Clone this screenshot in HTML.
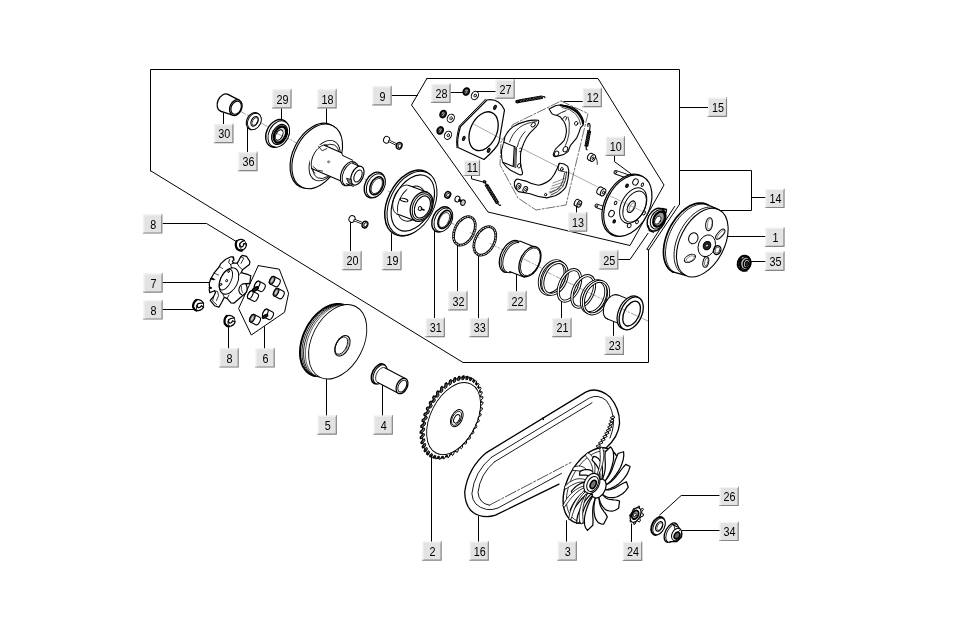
<!DOCTYPE html>
<html><head><meta charset="utf-8"><title>Parts diagram</title>
<style>
html,body{margin:0;padding:0;background:#fff;}
body{width:974px;height:620px;overflow:hidden;}
svg{display:block;will-change:transform;}
text{font-family:"Liberation Sans",sans-serif;font-size:12px;fill:#000;}
</style></head><body>
<svg width="974" height="620" viewBox="0 0 974 620" stroke-linecap="round" stroke-linejoin="round">
<rect width="974" height="620" fill="#fff"/>
<path d="M150.5 171.0 L150.5 69.5 L679.5 69.5 L679.5 204.3" fill="none" stroke="#000" stroke-width="1.0" />
<path d="M648.5 250.6 L648.5 362.5 L463.0 362.5 L151.0 171.0" fill="none" stroke="#000" stroke-width="1.0" />
<path d="M679.5 204.3 L648.3 250.6" fill="none" stroke="#000" stroke-width="1.0" />
<path d="M674.7 206.4 L646.8 249.3 L648.3 249.5" fill="none" stroke="#000" stroke-width="1.0" />
<path d="M427.0 78.5 L598.0 78.5 L664.0 185.0 L630.0 245.5 L488.0 212.0 L411.5 105.0 L427.0 78.3" fill="none" stroke="#000" stroke-width="1.0" />
<path d="M679.5 107.5 L708.0 107.5" fill="none" stroke="#000" stroke-width="1.0" />
<path d="M679.5 170.5 L751.5 170.5 L751.5 210.5 L719.5 210.5" fill="none" stroke="#000" stroke-width="1.0" />
<path d="M751.5 197.5 L765.5 197.5" fill="none" stroke="#000" stroke-width="1.0" />
<path d="M727.6 236.5 L765.5 236.5" fill="none" stroke="#000" stroke-width="1.0" />
<path d="M751.6 261.5 L765.5 261.5" fill="none" stroke="#000" stroke-width="1.0" />
<path d="M391.8 95.5 L417.4 95.5" fill="none" stroke="#000" stroke-width="1.0" />
<path d="M163.0 223.5 L206.5 223.5 L235.4 241.0" fill="none" stroke="#000" stroke-width="1.0" />
<path d="M162.5 282.5 L209.7 282.5" fill="none" stroke="#000" stroke-width="1.0" />
<path d="M162.5 309.5 L196.0 309.5" fill="none" stroke="#000" stroke-width="1.0" />
<path d="M228.5 325.0 L228.5 348.5" fill="none" stroke="#000" stroke-width="1.0" />
<path d="M264.5 326.7 L264.5 348.5" fill="none" stroke="#000" stroke-width="1.0" />
<path d="M350.5 222.0 L350.5 251.0" fill="none" stroke="#000" stroke-width="1.0" />
<path d="M391.5 233.6 L391.5 251.0" fill="none" stroke="#000" stroke-width="1.0" />
<path d="M434.5 226.0 L434.5 318.0" fill="none" stroke="#000" stroke-width="1.0" />
<path d="M457.5 243.0 L457.5 291.4" fill="none" stroke="#000" stroke-width="1.0" />
<path d="M478.5 255.0 L478.5 318.0" fill="none" stroke="#000" stroke-width="1.0" />
<path d="M516.5 272.0 L516.5 291.4" fill="none" stroke="#000" stroke-width="1.0" />
<path d="M561.5 301.3 L561.5 318.0" fill="none" stroke="#000" stroke-width="1.0" />
<path d="M613.5 319.0 L613.5 336.0" fill="none" stroke="#000" stroke-width="1.0" />
<path d="M617.9 259.5 L630.0 259.5 L648.0 233.3" fill="none" stroke="#000" stroke-width="1.0" />
<path d="M326.5 377.8 L326.5 415.6" fill="none" stroke="#000" stroke-width="1.0" />
<path d="M382.5 385.2 L382.5 415.6" fill="none" stroke="#000" stroke-width="1.0" />
<path d="M431.5 454.3 L431.5 541.7" fill="none" stroke="#000" stroke-width="1.0" />
<path d="M478.5 516.5 L478.5 541.7" fill="none" stroke="#000" stroke-width="1.0" />
<path d="M566.5 520.7 L566.5 541.7" fill="none" stroke="#000" stroke-width="1.0" />
<path d="M631.5 523.9 L631.5 541.7" fill="none" stroke="#000" stroke-width="1.0" />
<path d="M719.7 495.5 L681.2 495.5 L659.6 515.1" fill="none" stroke="#000" stroke-width="1.0" />
<path d="M681.6 530.5 L719.7 530.5" fill="none" stroke="#000" stroke-width="1.0" />
<path d="M614.5 155.3 L614.5 161.6 L631.0 173.8" fill="none" stroke="#000" stroke-width="1.0" />
<path d="M582.8 101.5 L564.0 101.5" fill="none" stroke="#000" stroke-width="1.0" />
<path d="M576.5 206.7 L576.5 213.4" fill="none" stroke="#000" stroke-width="1.0" />
<path d="M471.5 175.6 L471.5 178.8 L483.0 182.0" fill="none" stroke="#000" stroke-width="1.0" />
<path d="M223.5 113.0 L223.5 124.2" fill="none" stroke="#000" stroke-width="1.0" />
<path d="M247.5 128.0 L247.5 152.2" fill="none" stroke="#000" stroke-width="1.0" />
<path d="M281.5 108.2 L281.5 120.0" fill="none" stroke="#000" stroke-width="1.0" />
<path d="M326.5 108.2 L326.5 123.0" fill="none" stroke="#000" stroke-width="1.0" />
<path d="M450.7 92.5 L463.0 92.5" fill="none" stroke="#000" stroke-width="1.0" />
<path d="M477.0 91.5 L495.7 91.5" fill="none" stroke="#000" stroke-width="1.0" />
<g><rect x="214.4" y="124.2" width="19" height="19" fill="#e3e3e3"/><path d="M232.9 124.2V142.7H214.4" fill="none" stroke="#858585" stroke-width="1.2"/><path d="M214.9 142.2V124.7H232.4" fill="none" stroke="#f4f4f4" stroke-width="1"/><text transform="translate(224.3 138.4) scale(0.9 1.0)" text-anchor="middle">30</text></g>
<g><rect x="238.5" y="152.2" width="19" height="19" fill="#e3e3e3"/><path d="M257.0 152.2V170.7H238.5" fill="none" stroke="#858585" stroke-width="1.2"/><path d="M239.0 170.2V152.7H256.5" fill="none" stroke="#f4f4f4" stroke-width="1"/><text transform="translate(248.4 166.4) scale(0.9 1.0)" text-anchor="middle">36</text></g>
<g><rect x="272.5" y="89.4" width="19" height="19" fill="#e3e3e3"/><path d="M291.0 89.4V107.9H272.5" fill="none" stroke="#858585" stroke-width="1.2"/><path d="M273.0 107.4V89.9H290.5" fill="none" stroke="#f4f4f4" stroke-width="1"/><text transform="translate(282.4 103.6) scale(0.9 1.0)" text-anchor="middle">29</text></g>
<g><rect x="317.6" y="89.4" width="19" height="19" fill="#e3e3e3"/><path d="M336.1 89.4V107.9H317.6" fill="none" stroke="#858585" stroke-width="1.2"/><path d="M318.1 107.4V89.9H335.6" fill="none" stroke="#f4f4f4" stroke-width="1"/><text transform="translate(327.5 103.6) scale(0.9 1.0)" text-anchor="middle">18</text></g>
<g><rect x="372.6" y="86.4" width="19" height="19" fill="#e3e3e3"/><path d="M391.1 86.4V104.9H372.6" fill="none" stroke="#858585" stroke-width="1.2"/><path d="M373.1 104.4V86.9H390.6" fill="none" stroke="#f4f4f4" stroke-width="1"/><text transform="translate(382.5 100.6) scale(0.9 1.0)" text-anchor="middle">9</text></g>
<g><rect x="431.5" y="83.9" width="19" height="19" fill="#e3e3e3"/><path d="M450.0 83.9V102.4H431.5" fill="none" stroke="#858585" stroke-width="1.2"/><path d="M432.0 101.9V84.4H449.5" fill="none" stroke="#f4f4f4" stroke-width="1"/><text transform="translate(441.4 98.1) scale(0.9 1.0)" text-anchor="middle">28</text></g>
<g><rect x="495.7" y="79.7" width="19" height="19" fill="#e3e3e3"/><path d="M514.2 79.7V98.2H495.7" fill="none" stroke="#858585" stroke-width="1.2"/><path d="M496.2 97.7V80.2H513.7" fill="none" stroke="#f4f4f4" stroke-width="1"/><text transform="translate(505.6 93.9) scale(0.9 1.0)" text-anchor="middle">27</text></g>
<g><rect x="582.8" y="88.2" width="19" height="19" fill="#e3e3e3"/><path d="M601.3 88.2V106.7H582.8" fill="none" stroke="#858585" stroke-width="1.2"/><path d="M583.3 106.2V88.7H600.8" fill="none" stroke="#f4f4f4" stroke-width="1"/><text transform="translate(592.7 102.4) scale(0.9 1.0)" text-anchor="middle">12</text></g>
<g><rect x="708.0" y="97.8" width="19" height="19" fill="#e3e3e3"/><path d="M726.5 97.8V116.3H708.0" fill="none" stroke="#858585" stroke-width="1.2"/><path d="M708.5 115.8V98.3H726.0" fill="none" stroke="#f4f4f4" stroke-width="1"/><text transform="translate(717.9 112.0) scale(0.9 1.0)" text-anchor="middle">15</text></g>
<g><rect x="605.9" y="136.8" width="19" height="19" fill="#e3e3e3"/><path d="M624.4 136.8V155.3H605.9" fill="none" stroke="#858585" stroke-width="1.2"/><path d="M606.4 154.8V137.3H623.9" fill="none" stroke="#f4f4f4" stroke-width="1"/><text transform="translate(615.8 151.0) scale(0.9 1.0)" text-anchor="middle">10</text></g>
<g><rect x="765.5" y="189.0" width="19" height="19" fill="#e3e3e3"/><path d="M784.0 189.0V207.5H765.5" fill="none" stroke="#858585" stroke-width="1.2"/><path d="M766.0 207.0V189.5H783.5" fill="none" stroke="#f4f4f4" stroke-width="1"/><text transform="translate(775.4 203.2) scale(0.9 1.0)" text-anchor="middle">14</text></g>
<g><rect x="568.2" y="212.6" width="19" height="19" fill="#e3e3e3"/><path d="M586.7 212.6V231.1H568.2" fill="none" stroke="#858585" stroke-width="1.2"/><path d="M568.7 230.6V213.1H586.2" fill="none" stroke="#f4f4f4" stroke-width="1"/><text transform="translate(578.1 226.8) scale(0.9 1.0)" text-anchor="middle">13</text></g>
<g><rect x="765.5" y="227.8" width="19" height="19" fill="#e3e3e3"/><path d="M784.0 227.8V246.3H765.5" fill="none" stroke="#858585" stroke-width="1.2"/><path d="M766.0 245.8V228.3H783.5" fill="none" stroke="#f4f4f4" stroke-width="1"/><text transform="translate(775.4 242.0) scale(0.9 1.0)" text-anchor="middle">1</text></g>
<g><rect x="765.5" y="251.8" width="19" height="19" fill="#e3e3e3"/><path d="M784.0 251.8V270.3H765.5" fill="none" stroke="#858585" stroke-width="1.2"/><path d="M766.0 269.8V252.3H783.5" fill="none" stroke="#f4f4f4" stroke-width="1"/><text transform="translate(775.4 266.0) scale(0.9 1.0)" text-anchor="middle">35</text></g>
<g><rect x="599.3" y="250.5" width="19" height="19" fill="#e3e3e3"/><path d="M617.8 250.5V269.0H599.3" fill="none" stroke="#858585" stroke-width="1.2"/><path d="M599.8 268.5V251.0H617.3" fill="none" stroke="#f4f4f4" stroke-width="1"/><text transform="translate(609.2 264.7) scale(0.9 1.0)" text-anchor="middle">25</text></g>
<g><rect x="143.3" y="214.5" width="19" height="19" fill="#e3e3e3"/><path d="M161.8 214.5V233.0H143.3" fill="none" stroke="#858585" stroke-width="1.2"/><path d="M143.8 232.5V215.0H161.3" fill="none" stroke="#f4f4f4" stroke-width="1"/><text transform="translate(153.2 228.7) scale(0.9 1.0)" text-anchor="middle">8</text></g>
<g><rect x="143.6" y="273.6" width="19" height="19" fill="#e3e3e3"/><path d="M162.1 273.6V292.1H143.6" fill="none" stroke="#858585" stroke-width="1.2"/><path d="M144.1 291.6V274.1H161.6" fill="none" stroke="#f4f4f4" stroke-width="1"/><text transform="translate(153.5 287.8) scale(0.9 1.0)" text-anchor="middle">7</text></g>
<g><rect x="143.6" y="300.5" width="19" height="19" fill="#e3e3e3"/><path d="M162.1 300.5V319.0H143.6" fill="none" stroke="#858585" stroke-width="1.2"/><path d="M144.1 318.5V301.0H161.6" fill="none" stroke="#f4f4f4" stroke-width="1"/><text transform="translate(153.5 314.7) scale(0.9 1.0)" text-anchor="middle">8</text></g>
<g><rect x="219.7" y="348.5" width="19" height="19" fill="#e3e3e3"/><path d="M238.2 348.5V367.0H219.7" fill="none" stroke="#858585" stroke-width="1.2"/><path d="M220.2 366.5V349.0H237.7" fill="none" stroke="#f4f4f4" stroke-width="1"/><text transform="translate(229.6 362.7) scale(0.9 1.0)" text-anchor="middle">8</text></g>
<g><rect x="255.7" y="348.5" width="19" height="19" fill="#e3e3e3"/><path d="M274.2 348.5V367.0H255.7" fill="none" stroke="#858585" stroke-width="1.2"/><path d="M256.2 366.5V349.0H273.7" fill="none" stroke="#f4f4f4" stroke-width="1"/><text transform="translate(265.6 362.7) scale(0.9 1.0)" text-anchor="middle">6</text></g>
<g><rect x="342.6" y="251.2" width="19" height="19" fill="#e3e3e3"/><path d="M361.1 251.2V269.7H342.6" fill="none" stroke="#858585" stroke-width="1.2"/><path d="M343.1 269.2V251.7H360.6" fill="none" stroke="#f4f4f4" stroke-width="1"/><text transform="translate(352.5 265.4) scale(0.9 1.0)" text-anchor="middle">20</text></g>
<g><rect x="382.5" y="251.2" width="19" height="19" fill="#e3e3e3"/><path d="M401.0 251.2V269.7H382.5" fill="none" stroke="#858585" stroke-width="1.2"/><path d="M383.0 269.2V251.7H400.5" fill="none" stroke="#f4f4f4" stroke-width="1"/><text transform="translate(392.4 265.4) scale(0.9 1.0)" text-anchor="middle">19</text></g>
<g><rect x="425.8" y="318.2" width="19" height="19" fill="#e3e3e3"/><path d="M444.3 318.2V336.7H425.8" fill="none" stroke="#858585" stroke-width="1.2"/><path d="M426.3 336.2V318.7H443.8" fill="none" stroke="#f4f4f4" stroke-width="1"/><text transform="translate(435.7 332.4) scale(0.9 1.0)" text-anchor="middle">31</text></g>
<g><rect x="448.5" y="291.4" width="19" height="19" fill="#e3e3e3"/><path d="M467.0 291.4V309.9H448.5" fill="none" stroke="#858585" stroke-width="1.2"/><path d="M449.0 309.4V291.9H466.5" fill="none" stroke="#f4f4f4" stroke-width="1"/><text transform="translate(458.4 305.6) scale(0.9 1.0)" text-anchor="middle">32</text></g>
<g><rect x="469.8" y="318.2" width="19" height="19" fill="#e3e3e3"/><path d="M488.3 318.2V336.7H469.8" fill="none" stroke="#858585" stroke-width="1.2"/><path d="M470.3 336.2V318.7H487.8" fill="none" stroke="#f4f4f4" stroke-width="1"/><text transform="translate(479.7 332.4) scale(0.9 1.0)" text-anchor="middle">33</text></g>
<g><rect x="507.6" y="291.4" width="19" height="19" fill="#e3e3e3"/><path d="M526.1 291.4V309.9H507.6" fill="none" stroke="#858585" stroke-width="1.2"/><path d="M508.1 309.4V291.9H525.6" fill="none" stroke="#f4f4f4" stroke-width="1"/><text transform="translate(517.5 305.6) scale(0.9 1.0)" text-anchor="middle">22</text></g>
<g><rect x="552.5" y="318.2" width="19" height="19" fill="#e3e3e3"/><path d="M571.0 318.2V336.7H552.5" fill="none" stroke="#858585" stroke-width="1.2"/><path d="M553.0 336.2V318.7H570.5" fill="none" stroke="#f4f4f4" stroke-width="1"/><text transform="translate(562.4 332.4) scale(0.9 1.0)" text-anchor="middle">21</text></g>
<g><rect x="604.9" y="335.9" width="19" height="19" fill="#e3e3e3"/><path d="M623.4 335.9V354.4H604.9" fill="none" stroke="#858585" stroke-width="1.2"/><path d="M605.4 353.9V336.4H622.9" fill="none" stroke="#f4f4f4" stroke-width="1"/><text transform="translate(614.8 350.1) scale(0.9 1.0)" text-anchor="middle">23</text></g>
<g><rect x="317.8" y="415.6" width="19" height="19" fill="#e3e3e3"/><path d="M336.3 415.6V434.1H317.8" fill="none" stroke="#858585" stroke-width="1.2"/><path d="M318.3 433.6V416.1H335.8" fill="none" stroke="#f4f4f4" stroke-width="1"/><text transform="translate(327.7 429.8) scale(0.9 1.0)" text-anchor="middle">5</text></g>
<g><rect x="373.8" y="415.6" width="19" height="19" fill="#e3e3e3"/><path d="M392.3 415.6V434.1H373.8" fill="none" stroke="#858585" stroke-width="1.2"/><path d="M374.3 433.6V416.1H391.8" fill="none" stroke="#f4f4f4" stroke-width="1"/><text transform="translate(383.7 429.8) scale(0.9 1.0)" text-anchor="middle">4</text></g>
<g><rect x="422.6" y="541.7" width="19" height="19" fill="#e3e3e3"/><path d="M441.1 541.7V560.2H422.6" fill="none" stroke="#858585" stroke-width="1.2"/><path d="M423.1 559.7V542.2H440.6" fill="none" stroke="#f4f4f4" stroke-width="1"/><text transform="translate(432.5 555.9) scale(0.9 1.0)" text-anchor="middle">2</text></g>
<g><rect x="469.8" y="541.7" width="19" height="19" fill="#e3e3e3"/><path d="M488.3 541.7V560.2H469.8" fill="none" stroke="#858585" stroke-width="1.2"/><path d="M470.3 559.7V542.2H487.8" fill="none" stroke="#f4f4f4" stroke-width="1"/><text transform="translate(479.7 555.9) scale(0.9 1.0)" text-anchor="middle">16</text></g>
<g><rect x="557.8" y="541.7" width="19" height="19" fill="#e3e3e3"/><path d="M576.3 541.7V560.2H557.8" fill="none" stroke="#858585" stroke-width="1.2"/><path d="M558.3 559.7V542.2H575.8" fill="none" stroke="#f4f4f4" stroke-width="1"/><text transform="translate(567.7 555.9) scale(0.9 1.0)" text-anchor="middle">3</text></g>
<g><rect x="623.2" y="541.9" width="19" height="19" fill="#e3e3e3"/><path d="M641.7 541.9V560.4H623.2" fill="none" stroke="#858585" stroke-width="1.2"/><path d="M623.7 559.9V542.4H641.2" fill="none" stroke="#f4f4f4" stroke-width="1"/><text transform="translate(633.1 556.1) scale(0.9 1.0)" text-anchor="middle">24</text></g>
<g><rect x="719.7" y="487.0" width="19" height="19" fill="#e3e3e3"/><path d="M738.2 487.0V505.5H719.7" fill="none" stroke="#858585" stroke-width="1.2"/><path d="M720.2 505.0V487.5H737.7" fill="none" stroke="#f4f4f4" stroke-width="1"/><text transform="translate(729.6 501.2) scale(0.9 1.0)" text-anchor="middle">26</text></g>
<g><rect x="719.7" y="522.0" width="19" height="19" fill="#e3e3e3"/><path d="M738.2 522.0V540.5H719.7" fill="none" stroke="#858585" stroke-width="1.2"/><path d="M720.2 540.0V522.5H737.7" fill="none" stroke="#f4f4f4" stroke-width="1"/><text transform="translate(729.6 536.2) scale(0.9 1.0)" text-anchor="middle">34</text></g>
<g><rect x="464.0" y="160.0" width="16" height="16" fill="#e3e3e3"/><path d="M479.5 160.0V175.5H464.0" fill="none" stroke="#858585" stroke-width="1.2"/><path d="M464.5 175.0V160.5H479.0" fill="none" stroke="#f4f4f4" stroke-width="1"/><text transform="translate(472.4 172.2) scale(0.9 1.0)" text-anchor="middle">11</text></g>
<path d="M673.6 272.2 L671.9 271.4 L670.4 270.3 L669.1 269.1 L667.8 267.6 L666.7 266.0 L665.8 264.1 L665.0 262.1 L664.4 260.0 L663.9 257.7 L663.6 255.3 L663.5 252.7 L663.5 250.1 L663.8 247.4 L664.1 244.7 L664.7 241.9 L665.4 239.1 L666.3 236.2 L667.3 233.4 L668.5 230.6 L669.8 227.9 L671.2 225.2 L672.8 222.7 L674.5 220.2 L676.2 217.8 L678.1 215.6 L680.0 213.5 L682.0 211.5 L684.1 209.8 L686.2 208.2 L688.3 206.8 L690.4 205.6 L692.6 204.7 L694.7 203.9 L696.7 203.4 L698.8 203.1 L700.8 203.0 L702.7 203.1 L704.5 203.5 L706.2 204.1 L707.9 204.9" fill="none" stroke="#000" stroke-width="1.7" />
<path d="M673.1 271.6 L671.8 270.5 L670.6 269.3 L669.5 267.9 L668.5 266.3 L667.7 264.6 L667.0 262.8 L666.4 260.8 L666.0 258.7 L665.7 256.5 L665.5 254.2 L665.5 251.8 L665.7 249.3 L666.0 246.8 L666.4 244.3 L667.0 241.7 L667.7 239.1 L668.5 236.5 L669.5 233.9 L670.6 231.4 L671.8 228.9 L673.1 226.4 L674.5 224.0 L676.1 221.7 L677.7 219.5 L679.4 217.4 L681.1 215.4 L682.9 213.6 L684.8 211.9 L686.7 210.3 L688.6 208.9 L690.6 207.7 L692.5 206.6 L694.5 205.7 L696.4 205.0 L698.3 204.5 L700.2 204.2 L702.0 204.1 L703.8 204.1 L705.5 204.4 L707.2 204.8" fill="none" stroke="#000" stroke-width="0.9" />
<path d="M707.2 204.5 L719.0 209.8" fill="none" stroke="#000" stroke-width="1.2" />
<path d="M672.8 271.9 L685.6 275.4" fill="none" stroke="#000" stroke-width="1.2" />
<ellipse cx="702.3" cy="242.6" rx="22.1" ry="36.8" transform="rotate(27.0 702.3 242.6)" fill="#fff" stroke="#000" stroke-width="1.1" />
<path d="M686.1 275.4 L684.2 274.8 L682.5 273.9 L681.0 272.9 L679.5 271.6 L678.2 270.1 L677.1 268.3 L676.1 266.4 L675.4 264.3 L674.7 262.0 L674.3 259.6 L674.1 257.1 L674.0 254.4 L674.2 251.6 L674.5 248.8 L675.0 245.9 L675.7 243.0 L676.6 240.0 L677.6 237.1 L678.8 234.2 L680.2 231.3 L681.7 228.6 L683.3 225.9 L685.1 223.3 L686.9 220.9 L688.9 218.6 L690.9 216.5 L693.0 214.6 L695.2 212.8 L697.4 211.3 L699.6 210.0 L701.8 208.9 L704.0 208.1 L706.2 207.5 L708.3 207.1 L710.4 207.0 L712.3 207.2 L714.2 207.6 L716.0 208.2 L717.7 209.1 L719.2 210.2" fill="none" stroke="#000" stroke-width="0.9" />
<ellipse cx="706.8" cy="245.8" rx="8.4" ry="11.2" transform="rotate(20 706.8 245.8)" fill="none" stroke="#000" stroke-width="0.9" />
<ellipse cx="707.0" cy="245.6" rx="3.7" ry="4.3" transform="rotate(27.0 707.0 245.6)" fill="#222" stroke="#000" stroke-width="1.0" />
<ellipse cx="707.0" cy="245.6" rx="1.6" ry="1.0" transform="rotate(-30 707.0 245.6)" fill="#ddd" stroke="#000" stroke-width="0.5" />
<ellipse cx="709.1" cy="224.2" rx="3.4" ry="6.6" transform="rotate(8 709.1 224.2)" fill="none" stroke="#000" stroke-width="1.0" />
<ellipse cx="709.8" cy="224.0" rx="2.2" ry="5.4" transform="rotate(8 709.8 224.0)" fill="none" stroke="#555" stroke-width="0.6" />
<ellipse cx="720.3" cy="234.2" rx="2.6" ry="6.2" transform="rotate(42 720.3 234.2)" fill="none" stroke="#000" stroke-width="1.0" />
<ellipse cx="720.8" cy="234.4" rx="1.6" ry="5.0" transform="rotate(42 720.8 234.4)" fill="none" stroke="#555" stroke-width="0.6" />
<ellipse cx="693.3" cy="238.3" rx="4.6" ry="5.6" transform="rotate(20 693.3 238.3)" fill="none" stroke="#000" stroke-width="1.0" />
<ellipse cx="717.2" cy="250.1" rx="3.6" ry="4.6" transform="rotate(20 717.2 250.1)" fill="none" stroke="#000" stroke-width="1.3" />
<ellipse cx="717.4" cy="250.1" rx="2.2" ry="3.2" transform="rotate(20 717.4 250.1)" fill="none" stroke="#333" stroke-width="0.8" />
<ellipse cx="705.8" cy="262.0" rx="2.8" ry="5.4" transform="rotate(12 705.8 262.0)" fill="none" stroke="#000" stroke-width="1.0" />
<ellipse cx="706.3" cy="262.0" rx="1.6" ry="4.0" transform="rotate(12 706.3 262.0)" fill="none" stroke="#444" stroke-width="0.7" />
<ellipse cx="689.9" cy="258.4" rx="6.0" ry="3.4" transform="rotate(-28 689.9 258.4)" fill="none" stroke="#000" stroke-width="1.0" />
<ellipse cx="690.3" cy="258.7" rx="4.6" ry="2.2" transform="rotate(-28 690.3 258.7)" fill="none" stroke="#555" stroke-width="0.6" />
<ellipse cx="744.2" cy="263.2" rx="6.4" ry="7.6" transform="rotate(15 744.2 263.2)" fill="#fff" stroke="#000" stroke-width="2.0" />
<ellipse cx="745.6" cy="263.4" rx="5.0" ry="6.2" transform="rotate(15 745.6 263.4)" fill="#bbb" stroke="#000" stroke-width="1.2" />
<ellipse cx="746.6" cy="263.6" rx="3.2" ry="4.2" transform="rotate(15 746.6 263.6)" fill="#fff" stroke="#000" stroke-width="1.4" />
<ellipse cx="746.9" cy="263.8" rx="1.6" ry="2.4" transform="rotate(15 746.9 263.8)" fill="#333" stroke="#000" stroke-width="1.2" />
<path d="M739.4 258.6 l3 -2.8 l4.6 0.2 M739.6 268 l3 2.6 l4.4 0.4" fill="none" stroke="#000" stroke-width="1.1" />
<path d="M741 259 q-2.6 4 0 8.6" fill="none" stroke="#000" stroke-width="2.0" />
<ellipse cx="656.5" cy="219.6" rx="8.6" ry="12.0" transform="rotate(27 656.5 219.6)" fill="#fff" stroke="#000" stroke-width="1.4" />
<ellipse cx="658.0" cy="219.4" rx="7.0" ry="10.2" transform="rotate(27 658.0 219.4)" fill="none" stroke="#000" stroke-width="1.0" />
<ellipse cx="659.0" cy="219.2" rx="5.2" ry="8.0" transform="rotate(27 659.0 219.2)" fill="#999" stroke="#000" stroke-width="2.2" />
<ellipse cx="657.8" cy="220.2" rx="2.6" ry="4.4" transform="rotate(27 657.8 220.2)" fill="#fff" stroke="#000" stroke-width="0.8" />
<path d="M662 208.5 l4.5 1 l-0.4 3.2 M648.5 226 l0.8 4.6 l4.2 1.6" fill="none" stroke="#000" stroke-width="1.3" />
<line x1="615.8" y1="172.3" x2="631" y2="177.6" stroke="#000" stroke-width="4.6"/>
<line x1="615.8" y1="172.3" x2="631" y2="177.6" stroke="#fff" stroke-width="2.8"/>
<ellipse cx="615.8" cy="172.3" rx="0.9" ry="1.3" transform="rotate(27 615.8 172.3)" fill="#fff" stroke="#000" stroke-width="0.7" />
<line x1="596.8" y1="205.8" x2="607" y2="209.6" stroke="#000" stroke-width="4.6"/>
<line x1="596.8" y1="205.8" x2="607" y2="209.6" stroke="#fff" stroke-width="2.8"/>
<ellipse cx="596.8" cy="205.8" rx="0.9" ry="1.3" transform="rotate(27 596.8 205.8)" fill="#fff" stroke="#000" stroke-width="0.7" />
<ellipse cx="626.3" cy="205.2" rx="21.6" ry="33.0" transform="rotate(27 626.3 205.2)" fill="#fff" stroke="#000" stroke-width="1.2" />
<ellipse cx="627.8" cy="205.6" rx="21.4" ry="32.6" transform="rotate(27 627.8 205.6)" fill="#fff" stroke="#000" stroke-width="1.2" />
<ellipse cx="633.2" cy="205.6" rx="11.8" ry="19.0" transform="rotate(27 633.2 205.6)" fill="none" stroke="#000" stroke-width="1.0" />
<ellipse cx="634.6" cy="206.6" rx="10.2" ry="16.6" transform="rotate(27 634.6 206.6)" fill="none" stroke="#000" stroke-width="0.9" />
<ellipse cx="631.3" cy="206.7" rx="3.3" ry="6.2" transform="rotate(27 631.3 206.7)" fill="none" stroke="#000" stroke-width="1.2" />
<ellipse cx="632.0" cy="207.0" rx="2.0" ry="4.8" transform="rotate(27 632.0 207.0)" fill="none" stroke="#555" stroke-width="0.6" />
<ellipse cx="635.5" cy="182.0" rx="2.6" ry="3.2" transform="rotate(27 635.5 182.0)" fill="none" stroke="#000" stroke-width="1.0" />
<ellipse cx="627.0" cy="185.8" rx="1.3" ry="1.8" transform="rotate(27 627.0 185.8)" fill="#222" stroke="#000" stroke-width="1.0" />
<ellipse cx="642.4" cy="184.8" rx="1.1" ry="1.8" transform="rotate(27 642.4 184.8)" fill="none" stroke="#000" stroke-width="0.9" />
<ellipse cx="611.5" cy="213.6" rx="2.6" ry="3.4" transform="rotate(27 611.5 213.6)" fill="none" stroke="#000" stroke-width="1.0" />
<ellipse cx="615.6" cy="203.0" rx="1.2" ry="1.8" transform="rotate(27 615.6 203.0)" fill="none" stroke="#000" stroke-width="0.9" />
<ellipse cx="614.2" cy="221.4" rx="1.2" ry="1.7" transform="rotate(27 614.2 221.4)" fill="#222" stroke="#000" stroke-width="1.0" />
<ellipse cx="629.2" cy="225.6" rx="1.8" ry="2.2" transform="rotate(27 629.2 225.6)" fill="none" stroke="#000" stroke-width="0.9" />
<ellipse cx="637.0" cy="222.0" rx="1.3" ry="1.8" transform="rotate(27 637.0 222.0)" fill="none" stroke="#000" stroke-width="0.9" />
<ellipse cx="644.0" cy="213.0" rx="1.3" ry="2.0" transform="rotate(27 644.0 213.0)" fill="none" stroke="#000" stroke-width="0.9" />
<ellipse cx="599.5" cy="190.5" rx="2.3" ry="3.8" transform="rotate(27.0 599.5 190.5)" fill="#fff" stroke="#000" stroke-width="1.0" />
<path d="M597.8 193.9L601.3 195.7L604.8 188.9L601.2 187.1Z" fill="#fff" stroke="none"/>
<path d="M597.8 193.9 L601.3 195.7" fill="none" stroke="#000" stroke-width="1.0" />
<path d="M601.2 187.1 L604.8 188.9" fill="none" stroke="#000" stroke-width="1.0" />
<ellipse cx="603.1" cy="192.3" rx="2.3" ry="3.8" transform="rotate(27.0 603.1 192.3)" fill="#fff" stroke="#000" stroke-width="1.0" />
<ellipse cx="603.4" cy="192.6" rx="1.0" ry="1.6" transform="rotate(27.0 603.4 192.6)" fill="none" stroke="#000" stroke-width="0.8" />
<ellipse cx="576.6" cy="202.6" rx="2.0" ry="3.4" transform="rotate(27.0 576.6 202.6)" fill="#fff" stroke="#000" stroke-width="1.0" />
<path d="M575.1 205.6L577.7 207.0L580.8 200.9L578.1 199.6Z" fill="#fff" stroke="none"/>
<path d="M575.1 205.6 L577.7 207.0" fill="none" stroke="#000" stroke-width="1.0" />
<path d="M578.1 199.6 L580.8 200.9" fill="none" stroke="#000" stroke-width="1.0" />
<ellipse cx="579.3" cy="204.0" rx="2.0" ry="3.4" transform="rotate(27.0 579.3 204.0)" fill="#fff" stroke="#000" stroke-width="1.0" />
<ellipse cx="579.4" cy="204.0" rx="0.8" ry="1.3" transform="rotate(27.0 579.4 204.0)" fill="none" stroke="#000" stroke-width="0.8" />
<path d="M517.0 146.0 L597.0 186.6" fill="none" stroke="#555" stroke-width="0.5" />
<path d="M606.0 194.0 L648.0 214.0" fill="none" stroke="#666" stroke-width="0.5" />
<path d="M487 100 Q499 98 504.5 110 L499 142 Q497 148 484 159.5 L458 147.5 Q456.5 140 460.5 126.5 Z" fill="#fff" stroke="#000" stroke-width="1.2" />
<path d="M485.5 99.2 L459.3 126 Q455.5 139 457 147.8" fill="none" stroke="#000" stroke-width="1.0" />
<ellipse cx="483.6" cy="131.2" rx="13.2" ry="20.4" transform="rotate(24 483.6 131.2)" fill="none" stroke="#000" stroke-width="1.3" />
<ellipse cx="495.0" cy="107.3" rx="1.2" ry="2.2" transform="rotate(24 495.0 107.3)" fill="#333" stroke="#000" stroke-width="1.0" />
<ellipse cx="463.8" cy="138.4" rx="1.2" ry="2.2" transform="rotate(24 463.8 138.4)" fill="#333" stroke="#000" stroke-width="1.0" />
<ellipse cx="488.7" cy="150.3" rx="1.2" ry="2.2" transform="rotate(24 488.7 150.3)" fill="#333" stroke="#000" stroke-width="1.0" />
<path d="M473.5 124.1 L517.0 147.1" fill="none" stroke="#555" stroke-width="0.5" />
<ellipse cx="466.3" cy="91.5" rx="2.9" ry="3.7" transform="rotate(27 466.3 91.5)" fill="#333" stroke="#000" stroke-width="1.6" />
<path d="M465.5 90.3 q1.6 -0.8 2 0.6 q-1.2 0.6 -1.6 2" fill="none" stroke="#eee" stroke-width="0.7" />
<ellipse cx="443.1" cy="114.1" rx="2.9" ry="3.7" transform="rotate(27 443.1 114.1)" fill="#333" stroke="#000" stroke-width="1.6" />
<path d="M442.3 112.9 q1.6 -0.8 2 0.6 q-1.2 0.6 -1.6 2" fill="none" stroke="#eee" stroke-width="0.7" />
<ellipse cx="440.2" cy="130.4" rx="2.9" ry="3.7" transform="rotate(27 440.2 130.4)" fill="#333" stroke="#000" stroke-width="1.6" />
<path d="M439.4 129.2 q1.6 -0.8 2 0.6 q-1.2 0.6 -1.6 2" fill="none" stroke="#eee" stroke-width="0.7" />
<ellipse cx="474.9" cy="95.5" rx="3.4" ry="4.3" transform="rotate(27 474.9 95.5)" fill="#fff" stroke="#000" stroke-width="1.0" />
<ellipse cx="475.2" cy="95.5" rx="1.2" ry="1.6" transform="rotate(27 475.2 95.5)" fill="none" stroke="#000" stroke-width="0.8" />
<ellipse cx="450.8" cy="118.3" rx="3.4" ry="4.3" transform="rotate(27 450.8 118.3)" fill="#fff" stroke="#000" stroke-width="1.0" />
<ellipse cx="451.1" cy="118.3" rx="1.2" ry="1.6" transform="rotate(27 451.1 118.3)" fill="none" stroke="#000" stroke-width="0.8" />
<ellipse cx="448.0" cy="135.3" rx="3.4" ry="4.3" transform="rotate(27 448.0 135.3)" fill="#fff" stroke="#000" stroke-width="1.0" />
<ellipse cx="448.3" cy="135.3" rx="1.2" ry="1.6" transform="rotate(27 448.3 135.3)" fill="none" stroke="#000" stroke-width="0.8" />
<line x1="519" y1="101.2" x2="542" y2="97.2" stroke="#777" stroke-width="2.6"/>
<path d="M519.2 102.5 L520.2 99.7 L522.1 102.0 L523.1 99.2 L525.0 101.5 L526.0 98.7 L527.8 101.0 L528.8 98.2 L530.7 100.5 L531.7 97.7 L533.6 100.0 L534.6 97.2 L536.5 99.5 L537.5 96.7 L539.3 99.0 L540.3 96.2 L542.2 98.5" fill="none" stroke="#000" stroke-width="1.0" />
<path d="M519.2 102.5 L542.2 98.5" fill="none" stroke="#000" stroke-width="0.9" />
<path d="M518.8 99.9 L541.8 95.9" fill="none" stroke="#000" stroke-width="0.9" />
<ellipse cx="517.5" cy="101.6" rx="1.6" ry="1.3" transform="rotate(0 517.5 101.6)" fill="#333" stroke="#000" stroke-width="1.2" />
<path d="M542 97.2 q2.6 -1.6 3 0.6" fill="none" stroke="#000" stroke-width="1.1" />
<line x1="589.2" y1="131" x2="586.4" y2="146" stroke="#777" stroke-width="2.8"/>
<path d="M587.8 130.7 L590.4 132.3 L587.4 132.9 L590.0 134.5 L587.0 135.0 L589.6 136.6 L586.6 137.2 L589.2 138.8 L586.2 139.3 L588.8 140.9 L585.8 141.5 L588.4 143.0 L585.4 143.6 L588.0 145.2 L585.0 145.7" fill="none" stroke="#000" stroke-width="1.0" />
<path d="M587.8 130.7 L585.0 145.7" fill="none" stroke="#000" stroke-width="0.9" />
<path d="M590.6 131.3 L587.8 146.3" fill="none" stroke="#000" stroke-width="0.9" />
<path d="M589.4 131 q1.6 -7.5 -0.6 -7.6 q-1.6 0.2 -0.8 3 M586.4 146 q-0.8 4 0.8 3.8" fill="none" stroke="#000" stroke-width="1.1" />
<line x1="486.5" y1="185" x2="497.5" y2="203" stroke="#777" stroke-width="2.8"/>
<path d="M485.3 185.7 L488.4 185.4 L486.7 188.0 L489.8 187.6 L488.1 190.2 L491.1 189.9 L489.4 192.5 L492.5 192.1 L490.8 194.7 L493.9 194.4 L492.2 197.0 L495.3 196.6 L493.6 199.2 L496.6 198.9 L494.9 201.5 L498.0 201.1 L496.3 203.7" fill="none" stroke="#000" stroke-width="1.0" />
<path d="M485.3 185.7 L496.3 203.7" fill="none" stroke="#000" stroke-width="0.9" />
<path d="M487.7 184.3 L498.7 202.3" fill="none" stroke="#000" stroke-width="0.9" />
<path d="M486.5 185 l-2 -3.6 q-1.5 -1.5 -0.6 1.2 M497.5 203 q2.5 3.6 3.2 2" fill="none" stroke="#000" stroke-width="1.1" />
<ellipse cx="484.6" cy="181.8" rx="1.2" ry="1.2" transform="rotate(0 484.6 181.8)" fill="#444" stroke="#000" stroke-width="1.0" />
<path d="M561.0 101.0 L588.0 113.5 L572.0 180.0 L566.0 205.0 L536.0 210.0 L518.0 198.0 L500.0 165.0 L501.0 142.0 L513.0 124.5 L561.0 101.0" fill="none" stroke="#333" stroke-width="0.7" stroke-dasharray="9 2 2 2"/>
<path d="M549.1 108.9 L555.4 105.7 Q563 103.8 573 107.6 Q580.6 112 583.7 121.4 L583.1 125.2 L580.6 127.7 Q579 133 576.8 137.8 L570.5 145.3 L568 151.6 Q564 155 560.4 155.4 L555.4 156.7 Q552.4 155.6 553.5 153.5 Q554.6 149 557.9 146.6 Q562 143 564.2 140.3 Q567.4 133 566.1 127.7 Q565 122 562.3 119.6 L560.4 117 L556.7 115.2 Q552.6 115 551.6 113.3 Z" fill="#fff" stroke="#000" stroke-width="1.1" />
<path d="M560.4 105.2 Q571 106.6 577 112.4 Q582 117.4 583 123.6" fill="none" stroke="#000" stroke-width="1.9" />
<path d="M562 107.4 Q570.6 108.8 575.6 114 Q579.4 118 580.6 124.4" fill="none" stroke="#000" stroke-width="0.7" />
<path d="M568 117 Q570 122 569.2 127.7 Q569.6 134 567.4 140.3 L565.5 145.3" fill="none" stroke="#000" stroke-width="0.8" />
<path d="M556.7 115.2 Q562 112 566 110.6 M562.3 119.6 l1.6 -2.4 q1.6 -1.6 2.8 0 l-1 3" fill="none" stroke="#000" stroke-width="0.9" />
<ellipse cx="576.2" cy="123.4" rx="1.6" ry="2.0" transform="rotate(20 576.2 123.4)" fill="none" stroke="#000" stroke-width="0.9" />
<ellipse cx="556.6" cy="153.6" rx="2.0" ry="2.6" transform="rotate(30 556.6 153.6)" fill="none" stroke="#000" stroke-width="0.9" />
<ellipse cx="565.4" cy="149.2" rx="2.2" ry="2.8" transform="rotate(30 565.4 149.2)" fill="none" stroke="#000" stroke-width="0.9" />
<path d="M538.4 120.3 Q532 119.6 525.8 121.4 Q518 123.4 513.2 126.6 Q507.4 131 504.8 137.1 L503.8 142.3 L501.7 149.7 Q501 157 502.7 162.2 Q506 167.4 511.1 170.6 L519.5 174.8 Q522.6 175.4 522.6 172.7 Q520.6 167 520.5 162.2 L520.5 153.8 Q521.4 148 523.7 143.4 Q526 137.4 530 132.9 L536.3 126.6 Q539.6 122.6 538.4 120.3 Z" fill="#fff" stroke="#000" stroke-width="1.1" />
<path d="M536.4 121.6 Q526 122.6 519.6 127.4 Q512 133.6 509.6 142" fill="none" stroke="#000" stroke-width="0.8" />
<path d="M503.8 142.3 L514.3 146.5 L513.2 166.4 L502.7 162.2" fill="#fff" stroke="#000" stroke-width="1.1" />
<path d="M514.3 146.5 L516.6 147.4 L515.8 167.6 L513.2 166.4 M515.4 148 L514.6 166" fill="none" stroke="#000" stroke-width="0.8" />
<path d="M517.4 146.6 Q519 138 525 131.6 M519.6 148.6 q2 -1.4 2.2 1.2 q-0.4 2.4 -2.2 2" fill="none" stroke="#000" stroke-width="0.8" />
<ellipse cx="533.2" cy="124.8" rx="1.8" ry="2.6" transform="rotate(40 533.2 124.8)" fill="none" stroke="#000" stroke-width="0.9" />
<ellipse cx="519.2" cy="165.8" rx="1.6" ry="2.2" transform="rotate(20 519.2 165.8)" fill="none" stroke="#000" stroke-width="0.9" />
<path d="M514.3 183.2 Q515 179.6 517.4 179 L525.8 181.1 Q532 184.6 538.4 185.3 Q546 183.6 551 179 Q555 174 557.2 168.5 L559.3 163.3 Q564 163 567.7 166.4 L568.8 170.6 Q568.6 180 565.6 187.4 Q561.4 193 555.1 195.8 L546.8 197.9 Q538 197 530 193.7 L518.5 191.6 Q514 188 514.3 183.2 Z" fill="#fff" stroke="#000" stroke-width="1.1" />
<path d="M566.6 172 Q566 181 562.6 187 Q558 192.6 551 195 M564.6 173 Q563.6 181.4 560.4 186.4 Q556 191 550 193" fill="none" stroke="#000" stroke-width="0.8" />
<path d="M553 183 L566 178 M552 186 L565 181.6 M550.6 189 L563.4 185 M549 192 L560.6 188.4" fill="none" stroke="#444" stroke-width="0.6" />
<path d="M559.3 163.3 Q557.6 167.6 558.4 170.4 L567 172.4" fill="none" stroke="#000" stroke-width="0.8" />
<ellipse cx="518.6" cy="186.2" rx="2.2" ry="3.0" transform="rotate(27 518.6 186.2)" fill="none" stroke="#000" stroke-width="0.9" />
<ellipse cx="525.3" cy="189.4" rx="2.2" ry="3.0" transform="rotate(27 525.3 189.4)" fill="none" stroke="#000" stroke-width="0.9" />
<ellipse cx="518.8" cy="186.4" rx="0.9" ry="1.3" transform="rotate(27 518.8 186.4)" fill="none" stroke="#000" stroke-width="0.7" />
<ellipse cx="525.5" cy="189.6" rx="0.9" ry="1.3" transform="rotate(27 525.5 189.6)" fill="none" stroke="#000" stroke-width="0.7" />
<ellipse cx="561.8" cy="169.2" rx="1.2" ry="1.8" transform="rotate(20 561.8 169.2)" fill="none" stroke="#000" stroke-width="0.9" />
<ellipse cx="545.6" cy="194.6" rx="1.1" ry="1.4" transform="rotate(20 545.6 194.6)" fill="none" stroke="#000" stroke-width="0.8" />
<ellipse cx="590.0" cy="156.6" rx="2.2" ry="3.6" transform="rotate(27.0 590.0 156.6)" fill="#fff" stroke="#000" stroke-width="1.0" />
<path d="M588.4 159.8L591.2 161.3L594.5 154.8L591.6 153.4Z" fill="#fff" stroke="none"/>
<path d="M588.4 159.8 L591.2 161.3" fill="none" stroke="#000" stroke-width="1.0" />
<path d="M591.6 153.4 L594.5 154.8" fill="none" stroke="#000" stroke-width="1.0" />
<ellipse cx="592.9" cy="158.1" rx="2.2" ry="3.6" transform="rotate(27.0 592.9 158.1)" fill="#fff" stroke="#000" stroke-width="1.0" />
<ellipse cx="592.9" cy="158.2" rx="0.8" ry="1.4" transform="rotate(27.0 592.9 158.2)" fill="none" stroke="#000" stroke-width="0.8" />
<path d="M595.8 157 Q597.6 160 597.4 164.4" fill="none" stroke="#000" stroke-width="0.8" />
<path d="M239.4 110.7 L300.0 145.0" fill="none" stroke="#444" stroke-width="0.5" stroke-dasharray="7 2 1.5 2"/>
<ellipse cx="224.2" cy="102.8" rx="6.6" ry="9.2" transform="rotate(24 224.2 102.8)" fill="#fff" stroke="#000" stroke-width="1.3" />
<path d="M220.5 111.2 L232.5 115.1 L239.1 100.1 L227.9 94.4Z" fill="#fff" stroke="none"/>
<path d="M220.5 111.2 L232.5 115.1" fill="none" stroke="#000" stroke-width="1.3" />
<path d="M239.1 100.1 L227.9 94.4" fill="none" stroke="#000" stroke-width="1.3" />
<ellipse cx="235.8" cy="107.6" rx="5.9" ry="8.2" transform="rotate(24 235.8 107.6)" fill="#fff" stroke="#000" stroke-width="1.3" />
<ellipse cx="236.1" cy="107.7" rx="4.9" ry="6.8" transform="rotate(24 236.1 107.7)" fill="#fff" stroke="#000" stroke-width="1.1700000000000002" />
<ellipse cx="253.6" cy="121.2" rx="6.8" ry="9.0" transform="rotate(27 253.6 121.2)" fill="#fff" stroke="#000" stroke-width="1.1" />
<ellipse cx="254.4" cy="121.4" rx="6.4" ry="8.6" transform="rotate(27 254.4 121.4)" fill="#fff" stroke="#000" stroke-width="0.9" />
<ellipse cx="254.6" cy="121.3" rx="3.2" ry="5.2" transform="rotate(27 254.6 121.3)" fill="none" stroke="#000" stroke-width="1.1" />
<ellipse cx="255.0" cy="121.5" rx="2.4" ry="4.2" transform="rotate(27 255.0 121.5)" fill="none" stroke="#000" stroke-width="0.7" />
<ellipse cx="277.2" cy="133.4" rx="10.6" ry="14.6" transform="rotate(27 277.2 133.4)" fill="#fff" stroke="#000" stroke-width="1.3" />
<ellipse cx="278.8" cy="134.0" rx="10.0" ry="13.8" transform="rotate(27 278.8 134.0)" fill="#fff" stroke="#000" stroke-width="1.0" />
<ellipse cx="279.6" cy="134.4" rx="7.2" ry="10.6" transform="rotate(27 279.6 134.4)" fill="none" stroke="#000" stroke-width="1.2" />
<ellipse cx="280.0" cy="134.6" rx="5.6" ry="8.6" transform="rotate(27 280.0 134.6)" fill="#ddd" stroke="#000" stroke-width="2.4" />
<ellipse cx="279.2" cy="135.0" rx="3.2" ry="5.6" transform="rotate(27 279.2 135.0)" fill="#fff" stroke="#000" stroke-width="0.9" />
<path d="M272.0 131.0 L288.0 139.0" fill="none" stroke="#444" stroke-width="0.5" />
<ellipse cx="315.6" cy="155.8" rx="22.6" ry="34.6" transform="rotate(27 315.6 155.8)" fill="#fff" stroke="#000" stroke-width="1.2" />
<ellipse cx="317.2" cy="156.4" rx="22.4" ry="34.4" transform="rotate(27 317.2 156.4)" fill="#fff" stroke="#000" stroke-width="1.1" />
<ellipse cx="324.6" cy="160.6" rx="13.6" ry="21.6" transform="rotate(27 324.6 160.6)" fill="none" stroke="#000" stroke-width="0.9" />
<ellipse cx="326.0" cy="161.4" rx="11.4" ry="18.4" transform="rotate(27 326.0 161.4)" fill="none" stroke="#000" stroke-width="0.8" />
<path d="M324.3 145.2 L341.4 152.7 L342.8 155.5 L353 160.2 L347 184 L343.5 182.2 L311.3 168.5 Q307 156 313 148 Q318 143.6 324.3 145.2Z" fill="#fff" stroke="none"/>
<path d="M324.3 145.2 L341.4 152.7" fill="none" stroke="#000" stroke-width="1.1" />
<path d="M311.6 168.6 L344.5 182.6" fill="none" stroke="#000" stroke-width="1.1" />
<path d="M315.0 173.1 L314.4 172.7 L313.9 172.2 L313.4 171.6 L313.0 171.0 L312.6 170.4 L312.2 169.6 L311.9 168.8 L311.7 168.0 L311.5 167.1 L311.4 166.2 L311.3 165.3 L311.3 164.3 L311.3 163.2 L311.4 162.2 L311.5 161.2 L311.8 160.1 L312.0 159.0 L312.3 158.0 L312.7 156.9 L313.1 155.9 L313.6 154.9 L314.1 153.9 L314.6 152.9 L315.2 152.0 L315.8 151.1 L316.5 150.2 L317.2 149.4 L317.9 148.7 L318.6 148.0 L319.4 147.3 L320.2 146.8 L320.9 146.3 L321.7 145.8 L322.5 145.5 L323.3 145.2 L324.0 145.0 L324.8 144.9 L325.6 144.8 L326.3 144.8 L327.0 144.9" fill="none" stroke="#000" stroke-width="1.0" />
<path d="M341.4 152.7 L342.8 155.6" fill="none" stroke="#000" stroke-width="0.9" />
<path d="M342.8 155.6 L352.6 160.2" fill="none" stroke="#000" stroke-width="1.0" />
<path d="M318.6 146.4 l3.6 4.4 l4.6 -2.2 M313 166.6 q4 5 9.6 4.6" fill="none" stroke="#000" stroke-width="0.8" />
<ellipse cx="328.6" cy="161.8" rx="1.1" ry="1.1" transform="rotate(0 328.6 161.8)" fill="#999" stroke="#777" stroke-width="0.8" />
<ellipse cx="349.2" cy="173.6" rx="7.8" ry="12.8" transform="rotate(24 349.2 173.6)" fill="#fff" stroke="#000" stroke-width="1.1" />
<ellipse cx="350.6" cy="174.2" rx="7.4" ry="12.2" transform="rotate(24 350.6 174.2)" fill="#fff" stroke="#000" stroke-width="0.9" />
<path d="M352 163.4 L359.6 166.6 L353.6 186 L346.6 183.4Z" fill="#fff" stroke="none"/>
<path d="M352.4 163.2 L360.0 166.6" fill="none" stroke="#000" stroke-width="1.0" />
<path d="M346.4 183.8 L353.4 186.2" fill="none" stroke="#000" stroke-width="1.2" />
<ellipse cx="357.4" cy="175.6" rx="5.8" ry="10.0" transform="rotate(24 357.4 175.6)" fill="#fff" stroke="#000" stroke-width="1.2" />
<ellipse cx="358.0" cy="176.0" rx="3.6" ry="6.4" transform="rotate(24 358.0 176.0)" fill="none" stroke="#000" stroke-width="1.0" />
<path d="M346.6 178.6 l2 4.4 l3.4 1.4 l-0.6 -4.6 Z" fill="#777" stroke="#000" stroke-width="0.8" />
<path d="M365.0 179.0 L372.0 183.0" fill="none" stroke="#444" stroke-width="0.5" stroke-dasharray="7 2 1.5 2"/>
<path d="M388.0 191.0 L398.0 196.0" fill="none" stroke="#444" stroke-width="0.5" stroke-dasharray="7 2 1.5 2"/>
<ellipse cx="374.6" cy="185.0" rx="9.4" ry="13.6" transform="rotate(27 374.6 185.0)" fill="#fff" stroke="#000" stroke-width="1.4" />
<ellipse cx="375.8" cy="185.6" rx="8.6" ry="12.6" transform="rotate(27 375.8 185.6)" fill="#fff" stroke="#000" stroke-width="1.0" />
<ellipse cx="376.6" cy="185.8" rx="6.0" ry="9.6" transform="rotate(27 376.6 185.8)" fill="#fff" stroke="#000" stroke-width="1.6" />
<ellipse cx="376.8" cy="186.0" rx="4.8" ry="8.2" transform="rotate(27 376.8 186.0)" fill="none" stroke="#000" stroke-width="0.7" />
<ellipse cx="410.4" cy="203.0" rx="22.6" ry="35.0" transform="rotate(27 410.4 203.0)" fill="#fff" stroke="#000" stroke-width="1.5" />
<ellipse cx="412.0" cy="203.4" rx="22.0" ry="34.2" transform="rotate(27 412.0 203.4)" fill="#fff" stroke="#000" stroke-width="1.0" />
<ellipse cx="412.8" cy="203.0" rx="19.0" ry="30.0" transform="rotate(27 412.8 203.0)" fill="none" stroke="#000" stroke-width="1.1" />
<ellipse cx="411.6" cy="203.6" rx="12.6" ry="18.6" transform="rotate(27 411.6 203.6)" fill="none" stroke="#000" stroke-width="0.9" />
<path d="M397.2 214.1L415.8 220.9L427.4 192.3L408.8 185.5Z" fill="#fff" stroke="none"/>
<path d="M397.2 214.1 L415.8 220.9" fill="none" stroke="#000" stroke-width="1.1" />
<path d="M408.8 185.5 L427.4 192.3" fill="none" stroke="#000" stroke-width="1.1" />
<path d="M397.2 214.1 L396.6 213.8 L396.0 213.4 L395.4 212.9 L394.9 212.3 L394.4 211.7 L394.0 211.0 L393.6 210.2 L393.3 209.3 L393.0 208.4 L392.9 207.4 L392.7 206.4 L392.7 205.4 L392.7 204.3 L392.7 203.2 L392.9 202.1 L393.1 200.9 L393.3 199.8 L393.6 198.6 L394.0 197.5 L394.4 196.3 L394.9 195.2 L395.4 194.1 L396.0 193.1 L396.6 192.1 L397.3 191.1 L398.0 190.2 L398.7 189.4 L399.5 188.6 L400.2 187.9 L401.0 187.3 L401.8 186.7 L402.6 186.2 L403.4 185.8 L404.3 185.5 L405.1 185.3 L405.8 185.2 L406.6 185.1 L407.4 185.2 L408.1 185.3 L408.8 185.5" fill="none" stroke="#000" stroke-width="1.0" />
<ellipse cx="421.6" cy="206.6" rx="10.6" ry="15.4" transform="rotate(22 421.6 206.6)" fill="#fff" stroke="#000" stroke-width="1.3" />
<ellipse cx="422.0" cy="206.8" rx="9.2" ry="13.6" transform="rotate(22 422.0 206.8)" fill="#fff" stroke="#000" stroke-width="1.0" />
<ellipse cx="422.4" cy="207.0" rx="7.4" ry="11.6" transform="rotate(22 422.4 207.0)" fill="none" stroke="#000" stroke-width="1.1" />
<ellipse cx="420.0" cy="208.6" rx="1.8" ry="2.0" transform="rotate(22 420.0 208.6)" fill="none" stroke="#000" stroke-width="0.9" />
<path d="M421.4 209.0 L424.0 210.0" fill="none" stroke="#000" stroke-width="1.6" />
<ellipse cx="404.0" cy="200.0" rx="4.0" ry="1.5" transform="rotate(15 404.0 200.0)" fill="none" stroke="#000" stroke-width="1.0" />
<ellipse cx="386.6" cy="139.8" rx="3.0" ry="3.4" transform="rotate(20 386.6 139.8)" fill="#fff" stroke="#000" stroke-width="1.0" />
<path d="M389.2 141.0 L396.8 144.6" fill="none" stroke="#000" stroke-width="2.4" />
<path d="M389.2 141.0 L396.8 144.6" fill="none" stroke="#fff" stroke-width="1.0" />
<ellipse cx="399.2" cy="145.8" rx="2.8" ry="3.4" transform="rotate(20 399.2 145.8)" fill="#bbb" stroke="#000" stroke-width="1.3" />
<ellipse cx="399.8" cy="146.0" rx="1.6" ry="2.2" transform="rotate(20 399.8 146.0)" fill="#fff" stroke="#000" stroke-width="0.8" />
<ellipse cx="352.0" cy="219.0" rx="3.0" ry="3.4" transform="rotate(20 352.0 219.0)" fill="#fff" stroke="#000" stroke-width="1.0" />
<path d="M354.6 220.2 L362.6 223.4" fill="none" stroke="#000" stroke-width="2.4" />
<path d="M354.6 220.2 L362.6 223.4" fill="none" stroke="#fff" stroke-width="1.0" />
<ellipse cx="365.0" cy="224.6" rx="2.8" ry="3.4" transform="rotate(20 365.0 224.6)" fill="#bbb" stroke="#000" stroke-width="1.3" />
<ellipse cx="365.6" cy="224.8" rx="1.6" ry="2.2" transform="rotate(20 365.6 224.8)" fill="#fff" stroke="#000" stroke-width="0.8" />
<ellipse cx="447.7" cy="194.8" rx="2.8" ry="3.4" transform="rotate(27 447.7 194.8)" fill="#999" stroke="#000" stroke-width="1.4" />
<ellipse cx="448.2" cy="195.0" rx="1.3" ry="1.8" transform="rotate(27 448.2 195.0)" fill="#fff" stroke="#000" stroke-width="0.7" />
<ellipse cx="457.4" cy="199.0" rx="2.4" ry="3.0" transform="rotate(20 457.4 199.0)" fill="#fff" stroke="#000" stroke-width="1.0" />
<path d="M459.5 200.2 L462.0 201.6" fill="none" stroke="#000" stroke-width="2.6" />
<ellipse cx="463.0" cy="202.6" rx="2.2" ry="2.8" transform="rotate(20 463.0 202.6)" fill="#ccc" stroke="#000" stroke-width="1.0" />
<ellipse cx="441.8" cy="219.4" rx="9.0" ry="13.4" transform="rotate(27 441.8 219.4)" fill="#fff" stroke="#000" stroke-width="1.4" />
<ellipse cx="443.4" cy="219.8" rx="8.4" ry="12.6" transform="rotate(27 443.4 219.8)" fill="#fff" stroke="#000" stroke-width="1.0" />
<ellipse cx="444.6" cy="219.4" rx="5.8" ry="9.6" transform="rotate(27 444.6 219.4)" fill="#fff" stroke="#000" stroke-width="1.6" />
<ellipse cx="444.2" cy="220.0" rx="4.6" ry="8.0" transform="rotate(27 444.2 220.0)" fill="none" stroke="#000" stroke-width="0.7" />
<ellipse cx="464.4" cy="230.9" rx="9.6" ry="15.2" transform="rotate(27 464.4 230.9)" fill="none" stroke="#000" stroke-width="2.7" />
<ellipse cx="464.4" cy="230.9" rx="9.6" ry="15.2" transform="rotate(27 464.4 230.9)" fill="none" stroke="#ddd" stroke-width="1.0" stroke-dasharray="1.0 1.6"/>
<ellipse cx="484.8" cy="240.9" rx="9.6" ry="15.2" transform="rotate(27 484.8 240.9)" fill="none" stroke="#000" stroke-width="2.7" />
<ellipse cx="484.8" cy="240.9" rx="9.6" ry="15.2" transform="rotate(27 484.8 240.9)" fill="none" stroke="#ddd" stroke-width="1.0" stroke-dasharray="1.0 1.6"/>
<path d="M448.0 221.0 L456.0 225.5" fill="none" stroke="#444" stroke-width="0.5" stroke-dasharray="7 2 1.5 2"/>
<path d="M470.0 232.5 L480.0 238.0" fill="none" stroke="#444" stroke-width="0.5" stroke-dasharray="7 2 1.5 2"/>
<path d="M490.0 243.5 L505.0 251.0" fill="none" stroke="#444" stroke-width="0.5" stroke-dasharray="7 2 1.5 2"/>
<ellipse cx="511.0" cy="256.4" rx="10.2" ry="17.0" transform="rotate(25 511.0 256.4)" fill="#fff" stroke="#000" stroke-width="1.3" />
<ellipse cx="512.4" cy="257.0" rx="9.8" ry="16.6" transform="rotate(25 512.4 257.0)" fill="#fff" stroke="#000" stroke-width="0.9" />
<ellipse cx="513.8" cy="257.6" rx="9.6" ry="16.0" transform="rotate(25 513.8 257.6)" fill="#fff" stroke="#000" stroke-width="0.9" />
<path d="M519.6 241.2 L533.6 246.6 L524.6 277.2 L510.6 271.6 Z" fill="#fff" stroke="none"/>
<path d="M519.8 241.0 L534.0 246.8" fill="none" stroke="#000" stroke-width="1.1" />
<path d="M509.6 271.6 L524.4 277.2" fill="none" stroke="#000" stroke-width="1.1" />
<ellipse cx="529.9" cy="261.6" rx="9.6" ry="16.0" transform="rotate(25 529.9 261.6)" fill="#fff" stroke="#000" stroke-width="1.4" />
<ellipse cx="530.4" cy="261.8" rx="8.6" ry="14.8" transform="rotate(25 530.4 261.8)" fill="none" stroke="#000" stroke-width="0.8" />
<path d="M524.0 259.0 L545.0 270.0" fill="none" stroke="#444" stroke-width="0.5" stroke-dasharray="7 2 1.5 2"/>
<ellipse cx="552.2" cy="277.4" rx="11.6" ry="17.6" transform="rotate(25 552.2 277.4)" fill="none" stroke="#000" stroke-width="3.0" />
<ellipse cx="552.2" cy="277.4" rx="11.6" ry="17.6" transform="rotate(25 552.2 277.4)" fill="none" stroke="#fff" stroke-width="1.2" />
<ellipse cx="555.0" cy="278.4" rx="11.0" ry="16.8" transform="rotate(25 555.0 278.4)" fill="none" stroke="#000" stroke-width="3.0" />
<ellipse cx="555.0" cy="278.4" rx="11.0" ry="16.8" transform="rotate(25 555.0 278.4)" fill="none" stroke="#fff" stroke-width="1.2" />
<ellipse cx="569.4" cy="285.4" rx="9.6" ry="16.8" transform="rotate(25 569.4 285.4)" fill="none" stroke="#000" stroke-width="3.0" />
<ellipse cx="569.4" cy="285.4" rx="9.6" ry="16.8" transform="rotate(25 569.4 285.4)" fill="none" stroke="#fff" stroke-width="1.2" />
<ellipse cx="583.2" cy="291.4" rx="9.8" ry="16.8" transform="rotate(25 583.2 291.4)" fill="none" stroke="#000" stroke-width="3.0" />
<ellipse cx="583.2" cy="291.4" rx="9.8" ry="16.8" transform="rotate(25 583.2 291.4)" fill="none" stroke="#fff" stroke-width="1.2" />
<ellipse cx="593.6" cy="296.6" rx="11.0" ry="16.8" transform="rotate(25 593.6 296.6)" fill="none" stroke="#000" stroke-width="3.0" />
<ellipse cx="593.6" cy="296.6" rx="11.0" ry="16.8" transform="rotate(25 593.6 296.6)" fill="none" stroke="#fff" stroke-width="1.2" />
<ellipse cx="596.0" cy="297.6" rx="11.4" ry="17.2" transform="rotate(25 596.0 297.6)" fill="none" stroke="#000" stroke-width="3.0" />
<ellipse cx="596.0" cy="297.6" rx="11.4" ry="17.2" transform="rotate(25 596.0 297.6)" fill="none" stroke="#fff" stroke-width="1.2" />
<path d="M545.0 271.0 L612.0 304.0" fill="none" stroke="#444" stroke-width="0.5" stroke-dasharray="7 2 1.5 2"/>
<ellipse cx="612.6" cy="307.0" rx="8.4" ry="13.0" transform="rotate(25 612.6 307.0)" fill="#fff" stroke="#000" stroke-width="1.1" />
<path d="M618.0 295.2 L628 299 L618 323 L607.6 319.2 Z" fill="#fff" stroke="none"/>
<path d="M618.2 295.0 L629.0 299.4" fill="none" stroke="#000" stroke-width="1.0" />
<path d="M607.4 319.0 L619.0 323.6" fill="none" stroke="#000" stroke-width="1.0" />
<ellipse cx="629.4" cy="312.6" rx="10.8" ry="17.6" transform="rotate(25 629.4 312.6)" fill="#fff" stroke="#000" stroke-width="1.2" />
<ellipse cx="631.2" cy="313.4" rx="10.6" ry="17.4" transform="rotate(25 631.2 313.4)" fill="#fff" stroke="#000" stroke-width="1.3" />
<ellipse cx="631.6" cy="313.6" rx="7.6" ry="13.2" transform="rotate(25 631.6 313.6)" fill="#fff" stroke="#000" stroke-width="1.3" />
<path d="M620.0 308.0 L648.0 321.0" fill="none" stroke="#444" stroke-width="0.5" stroke-dasharray="7 2 1.5 2"/>
<path d="M258.3 265.6 L279.3 269.2 L288.6 293.3 L284.6 312.2 L251.3 335.0 L238.6 308.5 L258.3 265.6" fill="none" stroke="#000" stroke-width="1.0" />
<g transform="translate(259.8 286.4) rotate(27)"><path d="M-3 -4.2 L3 -4.2 A2.2 4.2 0 0 1 3 4.2 L-3 4.2 A2.2 4.2 0 0 1 -3 -4.2Z" fill="#fff" stroke="#000" stroke-width="1.1"/><ellipse cx="-3" cy="0" rx="2.2" ry="4.2" fill="#fff" stroke="#000" stroke-width="1.1"/></g>
<ellipse cx="255.2" cy="289.2" rx="1.4" ry="3.4" transform="rotate(57 255.2 289.2)" fill="#333" stroke="#000" stroke-width="1.6" />
<g transform="translate(253.0 296.2) rotate(27)"><path d="M-3 -4.2 L3 -4.2 A2.2 4.2 0 0 1 3 4.2 L-3 4.2 A2.2 4.2 0 0 1 -3 -4.2Z" fill="#fff" stroke="#000" stroke-width="1.1"/><ellipse cx="-3" cy="0" rx="2.2" ry="4.2" fill="#fff" stroke="#000" stroke-width="1.1"/></g>
<g transform="translate(274.8 281.6) rotate(27)"><path d="M-3 -4.2 L3 -4.2 A2.2 4.2 0 0 1 3 4.2 L-3 4.2 A2.2 4.2 0 0 1 -3 -4.2Z" fill="#fff" stroke="#000" stroke-width="1.1"/><ellipse cx="-3" cy="0" rx="2.2" ry="4.2" fill="#666" stroke="#000" stroke-width="1.1"/><ellipse cx="-3" cy="0" rx="1.0" ry="2.4" fill="#ccc" stroke="none"/></g>
<g transform="translate(278.8 293.6) rotate(27)"><path d="M-3 -4.2 L3 -4.2 A2.2 4.2 0 0 1 3 4.2 L-3 4.2 A2.2 4.2 0 0 1 -3 -4.2Z" fill="#fff" stroke="#000" stroke-width="1.1"/><ellipse cx="-3" cy="0" rx="2.2" ry="4.2" fill="#666" stroke="#000" stroke-width="1.1"/><ellipse cx="-3" cy="0" rx="1.0" ry="2.4" fill="#ccc" stroke="none"/></g>
<g transform="translate(268.0 314.4) rotate(27)"><path d="M-3 -4.2 L3 -4.2 A2.2 4.2 0 0 1 3 4.2 L-3 4.2 A2.2 4.2 0 0 1 -3 -4.2Z" fill="#fff" stroke="#000" stroke-width="1.1"/><ellipse cx="-3" cy="0" rx="2.2" ry="4.2" fill="#fff" stroke="#000" stroke-width="1.1"/></g>
<ellipse cx="265.0" cy="316.4" rx="1.2" ry="3.0" transform="rotate(60 265.0 316.4)" fill="#333" stroke="#000" stroke-width="1.4" />
<g transform="translate(255.0 319.6) rotate(27)"><path d="M-3 -4.2 L3 -4.2 A2.2 4.2 0 0 1 3 4.2 L-3 4.2 A2.2 4.2 0 0 1 -3 -4.2Z" fill="#fff" stroke="#000" stroke-width="1.1"/><ellipse cx="-3" cy="0" rx="2.2" ry="4.2" fill="#666" stroke="#000" stroke-width="1.1"/><ellipse cx="-3" cy="0" rx="1.0" ry="2.4" fill="#ccc" stroke="none"/></g>
<path d="M220.8 263.6 L225.7 259.2 L231 256.8 L233.4 256.8 L233.9 259.2 L232.4 261.6 L233.4 263.1 L237.3 263.1 L238.7 260.6 L240.7 256.8 L242.6 255.3 L246.5 256.3 L249.9 261.6 L249.4 264.5 L242.6 269.8 L241.1 272.7 L248.4 274.7 L250.8 275.9 L250.3 279 L249.9 283.4 L246 284 Q248.6 290 245.6 293 L241.6 296.5 L233.9 303.2 L231 302.8 L227.1 298.4 L224.2 297.4 L221.8 302.3 L218.9 307.1 L214.5 305.7 L210.2 300.3 L213.6 296.5 L215.5 292.6 L214.5 290.7 L209.7 292.6 L209.2 289.7 L209.7 287.3 L209.2 283.9 L210.6 279 L214 273.2 L219.4 266.5 Z" fill="#fff" stroke="#000" stroke-width="1.2" />
<ellipse cx="229.0" cy="281.0" rx="8.6" ry="14.0" transform="rotate(25 229.0 281.0)" fill="none" stroke="#000" stroke-width="1.0" />
<ellipse cx="225.8" cy="279.6" rx="5.4" ry="11.2" transform="rotate(25 225.8 279.6)" fill="none" stroke="#000" stroke-width="0.9" />
<ellipse cx="228.6" cy="271.4" rx="0.8" ry="1.2" transform="rotate(25 228.6 271.4)" fill="none" stroke="#000" stroke-width="0.8" />
<ellipse cx="226.6" cy="280.6" rx="0.9" ry="1.3" transform="rotate(25 226.6 280.6)" fill="none" stroke="#000" stroke-width="0.8" />
<ellipse cx="220.8" cy="284.4" rx="0.9" ry="1.3" transform="rotate(25 220.8 284.4)" fill="none" stroke="#000" stroke-width="0.8" />
<path d="M249.9 283.4 L242.6 283.9 Q239 285.6 238.8 290.6 Q239.6 294 241.8 294.8" fill="none" stroke="#000" stroke-width="1.1" />
<path d="M241.4 286.4 Q240.6 290 242.6 292.6" fill="none" stroke="#000" stroke-width="0.7" />
<path d="M233.4 263.1 L230.6 264.6 L228.6 262.4 L229.6 259.6 M237.3 263.1 L238.8 266.4 L242.6 269.8 M230.6 264.6 L231.6 268" fill="none" stroke="#000" stroke-width="0.9" />
<path d="M232.6 257.6 L234.2 260.2 M240.7 256.8 L243.8 258.2 L241 263.4" fill="none" stroke="#000" stroke-width="0.8" />
<path d="M219.4 266.5 L222.6 268.6 M214 273.2 L218.6 275 M210.6 279 L215 279.6" fill="none" stroke="#000" stroke-width="0.7" />
<path d="M211.6 278.4 l1.6 0.8 M209.6 287.6 l1.4 0.4" fill="none" stroke="#000" stroke-width="2.0" />
<path d="M241.1 272.7 L238.4 275.4 M214.5 290.7 L217.6 291.6 L218.6 295.6 L216.4 300.6 M224.2 297.4 L223 294.4 M227.1 298.4 L229 295" fill="none" stroke="#000" stroke-width="0.8" />
<path d="M213.6 296.5 L212.6 301 L216.6 304.6" fill="none" stroke="#000" stroke-width="0.8" />
<g transform="translate(240.8 244.6) rotate(-10)"><path d="M4.2 -3.4 Q0.4 -6.6 -3.6 -4.2 Q-6.2 -0.4 -4.2 3.8 Q-1.6 6.6 2.2 5.2 Q5.4 3.4 5.6 0.2 L3 -0.4 Q2.8 2 0.6 2.6 Q-1.6 1.6 -1 -1 Q0.6 -2.6 4.2 -3.4Z" fill="#fff" stroke="#000" stroke-width="1.2"/><path d="M-3.6 -4.2 Q-6.2 -0.4 -4.2 3.8 Q-1.6 6.6 0.4 5.8" fill="none" stroke="#000" stroke-width="2.2"/><path d="M-1 -1 Q-2.6 1.6 -0.6 4.2 M4.2 -3.4 L5.6 0.2" fill="none" stroke="#000" stroke-width="0.8"/></g>
<g transform="translate(198.4 305.0) rotate(20)"><path d="M4.2 -3.4 Q0.4 -6.6 -3.6 -4.2 Q-6.2 -0.4 -4.2 3.8 Q-1.6 6.6 2.2 5.2 Q5.4 3.4 5.6 0.2 L3 -0.4 Q2.8 2 0.6 2.6 Q-1.6 1.6 -1 -1 Q0.6 -2.6 4.2 -3.4Z" fill="#fff" stroke="#000" stroke-width="1.2"/><path d="M-3.6 -4.2 Q-6.2 -0.4 -4.2 3.8 Q-1.6 6.6 0.4 5.8" fill="none" stroke="#000" stroke-width="2.2"/><path d="M-1 -1 Q-2.6 1.6 -0.6 4.2 M4.2 -3.4 L5.6 0.2" fill="none" stroke="#000" stroke-width="0.8"/></g>
<g transform="translate(229.6 320.6) rotate(10)"><path d="M4.2 -3.4 Q0.4 -6.6 -3.6 -4.2 Q-6.2 -0.4 -4.2 3.8 Q-1.6 6.6 2.2 5.2 Q5.4 3.4 5.6 0.2 L3 -0.4 Q2.8 2 0.6 2.6 Q-1.6 1.6 -1 -1 Q0.6 -2.6 4.2 -3.4Z" fill="#fff" stroke="#000" stroke-width="1.2"/><path d="M-3.6 -4.2 Q-6.2 -0.4 -4.2 3.8 Q-1.6 6.6 0.4 5.8" fill="none" stroke="#000" stroke-width="2.2"/><path d="M-1 -1 Q-2.6 1.6 -0.6 4.2 M4.2 -3.4 L5.6 0.2" fill="none" stroke="#000" stroke-width="0.8"/></g>
<path d="M315.0 376.0 L313.0 375.5 L311.1 374.7 L309.3 373.7 L307.7 372.4 L306.1 371.0 L304.8 369.3 L303.6 367.4 L302.5 365.4 L301.6 363.2 L301.0 360.8 L300.4 358.3 L300.1 355.7 L300.0 352.9 L300.1 350.1 L300.3 347.2 L300.8 344.3 L301.4 341.3 L302.2 338.4 L303.2 335.4 L304.3 332.5 L305.7 329.6 L307.1 326.8 L308.7 324.1 L310.5 321.5 L312.3 319.0 L314.3 316.7 L316.4 314.5 L318.5 312.5 L320.8 310.7 L323.0 309.0 L325.3 307.6 L327.7 306.4 L330.0 305.5 L332.3 304.7 L334.6 304.3 L336.8 304.0 L339.0 304.0 L341.2 304.2 L343.2 304.7 L345.1 305.4" fill="none" stroke="#000" stroke-width="2.0" />
<path d="M315.3 376.0 L313.4 375.3 L311.7 374.3 L310.1 373.2 L308.5 371.8 L307.2 370.3 L306.0 368.5 L304.9 366.6 L304.0 364.5 L303.2 362.3 L302.7 359.9 L302.3 357.4 L302.0 354.8 L302.0 352.1 L302.1 349.3 L302.5 346.5 L302.9 343.7 L303.6 340.8 L304.4 337.9 L305.4 335.1 L306.6 332.3 L307.9 329.5 L309.4 326.8 L310.9 324.2 L312.6 321.7 L314.5 319.3 L316.4 317.0 L318.4 314.9 L320.4 313.0 L322.6 311.2 L324.8 309.6 L327.0 308.2 L329.3 307.0 L331.5 306.1 L333.8 305.3 L336.0 304.8 L338.2 304.5 L340.3 304.4 L342.4 304.5 L344.4 304.9 L346.3 305.5" fill="none" stroke="#000" stroke-width="0.9" />
<path d="M316.2 376.4 L314.3 375.5 L312.6 374.5 L311.0 373.2 L309.6 371.8 L308.2 370.1 L307.1 368.3 L306.1 366.3 L305.2 364.1 L304.5 361.8 L304.0 359.4 L303.7 356.8 L303.6 354.1 L303.6 351.4 L303.8 348.6 L304.2 345.7 L304.8 342.8 L305.6 339.9 L306.5 337.0 L307.5 334.2 L308.8 331.4 L310.2 328.6 L311.7 325.9 L313.3 323.3 L315.1 320.8 L317.0 318.5 L318.9 316.3 L321.0 314.2 L323.1 312.3 L325.3 310.6 L327.5 309.1 L329.8 307.8 L332.0 306.7 L334.3 305.8 L336.6 305.2 L338.8 304.7 L341.0 304.5 L343.1 304.5 L345.2 304.8 L347.2 305.3 L349.1 306.0" fill="none" stroke="#000" stroke-width="0.9" />
<path d="M317.2 376.7 L315.4 375.8 L313.7 374.6 L312.2 373.3 L310.8 371.7 L309.5 370.0 L308.4 368.0 L307.5 365.9 L306.7 363.7 L306.1 361.3 L305.7 358.8 L305.4 356.1 L305.4 353.4 L305.5 350.6 L305.8 347.8 L306.3 344.9 L306.9 342.0 L307.7 339.0 L308.7 336.1 L309.9 333.3 L311.2 330.4 L312.6 327.7 L314.2 325.0 L315.9 322.5 L317.8 320.0 L319.7 317.7 L321.7 315.6 L323.8 313.6 L326.0 311.7 L328.2 310.1 L330.5 308.7 L332.8 307.4 L335.1 306.4 L337.3 305.6 L339.6 305.1 L341.8 304.7 L344.0 304.6 L346.1 304.7 L348.2 305.1 L350.1 305.7 L352.0 306.5" fill="none" stroke="#333" stroke-width="0.8" />
<path d="M345.9 305.8 L355.7 306.5" fill="none" stroke="#000" stroke-width="1.0" />
<path d="M310.9 374.6 L319.7 377.1" fill="none" stroke="#000" stroke-width="1.0" />
<ellipse cx="337.7" cy="341.8" rx="25.7" ry="39.6" transform="rotate(27 337.7 341.8)" fill="#fff" stroke="#000" stroke-width="0.9" />
<ellipse cx="342.4" cy="345.8" rx="6.6" ry="11.0" transform="rotate(27 342.4 345.8)" fill="#fff" stroke="#000" stroke-width="1.0" />
<ellipse cx="341.4" cy="345.6" rx="5.2" ry="9.4" transform="rotate(27 341.4 345.6)" fill="none" stroke="#000" stroke-width="0.8" />
<path d="M347.9 338.5 L348.2 338.9 L348.3 339.4 L348.5 339.9 L348.6 340.5 L348.7 341.1 L348.7 341.7 L348.7 342.4 L348.6 343.1 L348.5 343.8 L348.4 344.5 L348.2 345.2 L348.0 345.9 L347.7 346.7 L347.4 347.4 L347.1 348.1 L346.7 348.8 L346.4 349.5 L345.9 350.2 L345.5 350.8 L345.1 351.4 L344.6 352.0 L344.1 352.5 L343.6 353.0 L343.1 353.5 L342.5 353.9 L342.0 354.2 L341.5 354.5 L341.0 354.8 L340.5 355.0 L340.0 355.1 L339.5 355.2 L339.0 355.3 L338.5 355.2 L338.1 355.1 L337.7 355.0 L337.3 354.8 L336.9 354.6 L336.6 354.3 L336.3 353.9 L336.1 353.5" fill="none" stroke="#555" stroke-width="0.7" />
<ellipse cx="378.8" cy="373.8" rx="6.4" ry="10.6" transform="rotate(27 378.8 373.8)" fill="#fff" stroke="#000" stroke-width="1.6" />
<ellipse cx="380.2" cy="374.4" rx="6.2" ry="10.2" transform="rotate(27 380.2 374.4)" fill="#fff" stroke="#000" stroke-width="1.0" />
<path d="M377.8 382.5L398.3 393.3L405.7 378.7L385.2 367.9Z" fill="#fff" stroke="none"/>
<path d="M377.8 382.5 L398.3 393.3" fill="none" stroke="#000" stroke-width="1.1" />
<path d="M385.2 367.9 L405.7 378.7" fill="none" stroke="#000" stroke-width="1.1" />
<path d="M377.8 382.5 L377.4 382.3 L377.1 382.1 L376.8 381.8 L376.6 381.4 L376.3 381.1 L376.1 380.7 L376.0 380.2 L375.8 379.8 L375.7 379.3 L375.7 378.7 L375.6 378.2 L375.6 377.6 L375.7 377.0 L375.8 376.5 L375.9 375.9 L376.0 375.3 L376.2 374.7 L376.4 374.1 L376.7 373.5 L377.0 372.9 L377.3 372.3 L377.6 371.8 L378.0 371.3 L378.3 370.7 L378.7 370.3 L379.2 369.8 L379.6 369.4 L380.0 369.0 L380.5 368.7 L380.9 368.4 L381.4 368.1 L381.8 367.9 L382.3 367.8 L382.8 367.6 L383.2 367.6 L383.6 367.5 L384.1 367.6 L384.5 367.6 L384.9 367.7 L385.2 367.9" fill="none" stroke="#000" stroke-width="0.9" />
<ellipse cx="402.0" cy="386.0" rx="5.2" ry="8.2" transform="rotate(27 402.0 386.0)" fill="#fff" stroke="#000" stroke-width="1.3" />
<ellipse cx="402.3" cy="386.1" rx="3.8" ry="6.4" transform="rotate(27 402.3 386.1)" fill="none" stroke="#000" stroke-width="0.9" />
<path d="M471.8 428.0 L471.0 429.5 L471.9 431.4 L471.0 433.0 L469.1 432.9 L468.8 433.4 L467.8 434.8 L468.5 437.0 L467.5 438.5 L465.7 437.9 L465.3 438.4 L464.3 439.7 L464.6 442.2 L463.5 443.5 L461.9 442.5 L461.6 442.9 L460.5 444.1 L460.4 446.8 L459.3 447.9 L457.9 446.5 L457.5 446.9 L456.4 447.9 L456.0 450.7 L454.8 451.7 L453.8 449.9 L453.4 450.2 L452.2 451.0 L451.5 453.9 L450.3 454.7 L449.6 452.6 L449.1 452.8 L447.9 453.4 L447.0 456.3 L445.8 456.8 L445.3 454.4 L444.9 454.5 L443.8 454.9 L442.5 457.8 L441.4 458.1 L441.3 455.4 L440.9 455.5 L439.7 455.6 L438.3 458.4 L437.1 458.4 L437.4 455.6 L437.0 455.6 L436.0 455.4 L434.2 458.1 L433.2 457.8 L433.8 454.9 L433.4 454.8 L432.5 454.4 L430.6 456.8 L429.7 456.4 L430.6 453.4 L430.3 453.2 L429.5 452.6 L427.4 454.7 L426.6 454.0 L427.8 451.0 L427.6 450.8 L426.9 449.9 L424.8 451.8 L424.1 450.8 L425.6 447.9 L425.4 447.6 L424.8 446.6 L422.7 448.0 L422.2 446.9 L423.9 444.2 L423.7 443.7 L423.4 442.6 L421.2 443.6 L420.9 442.3 L422.8 439.8 L422.7 439.3 L422.5 438.0 L420.4 438.6 L420.3 437.1 L422.3 434.9 L422.3 434.4 L422.3 432.9 L420.2 433.1 L420.3 431.5 L422.4 429.6 L422.5 429.1 L422.7 427.5 L420.8 427.2 L421.0 425.6 L423.2 424.0 L423.3 423.5 L423.7 421.9 L422.0 421.2 L422.4 419.5 L424.6 418.3 L424.8 417.7 L425.3 416.1 L423.8 415.0 L424.4 413.4 L426.6 412.6 L426.8 412.0 L427.5 410.4 L426.3 408.9 L427.0 407.3 L429.1 406.9 L429.4 406.4 L430.2 404.9 L429.3 403.0 L430.2 401.4 L432.1 401.5 L432.4 401.0 L433.4 399.6 L432.7 397.4 L433.7 395.9 L435.5 396.5 L435.9 396.0 L436.9 394.7 L436.6 392.2 L437.7 390.9 L439.3 391.9 L439.6 391.5 L440.7 390.3 L440.8 387.6 L441.9 386.5 L443.3 387.9 L443.7 387.5 L444.8 386.5 L445.2 383.7 L446.4 382.7 L447.4 384.5 L447.8 384.2 L449.0 383.4 L449.7 380.5 L450.9 379.7 L451.6 381.8 L452.1 381.6 L453.3 381.0 L454.2 378.1 L455.4 377.6 L455.9 380.0 L456.3 379.9 L457.4 379.5 L458.7 376.6 L459.8 376.3 L459.9 379.0 L460.3 378.9 L461.5 378.8 L462.9 376.0 L464.1 376.0 L463.8 378.8 L464.2 378.8 L465.2 379.0 L467.0 376.3 L468.0 376.6 L467.4 379.5 L467.8 379.6 L468.7 380.0 L470.6 377.6 L471.5 378.0 L470.6 381.0 L470.9 381.2 L471.7 381.8 L473.8 379.7 L474.6 380.4 L473.4 383.4 L473.6 383.6 L474.3 384.5 L476.4 382.6 L477.1 383.6 L475.6 386.5 L475.8 386.8 L476.4 387.8 L478.5 386.4 L479.0 387.5 L477.3 390.2 L477.5 390.7 L477.8 391.8 L480.0 390.8 L480.3 392.1 L478.4 394.6 L478.5 395.1 L478.7 396.4 L480.8 395.8 L480.9 397.3 L478.9 399.5 L478.9 400.0 L478.9 401.5 L481.0 401.3 L480.9 402.9 L478.8 404.8 L478.7 405.3 L478.5 406.9 L480.4 407.2 L480.2 408.8 L478.0 410.4 L477.9 410.9 L477.5 412.5 L479.2 413.2 L478.8 414.9 L476.6 416.1 L476.4 416.7 L475.9 418.3 L477.4 419.4 L476.8 421.0 L474.6 421.8 L474.4 422.4 L473.7 424.0 L474.9 425.5 L474.2 427.1 L472.1 427.5Z" fill="#777" stroke="#000" stroke-width="1.3"/>
<path d="M473.8 428.8 L473.0 430.3 L473.9 432.2 L473.0 433.8 L471.1 433.7 L470.8 434.2 L469.8 435.6 L470.5 437.8 L469.5 439.3 L467.7 438.7 L467.3 439.2 L466.3 440.5 L466.6 443.0 L465.5 444.3 L463.9 443.3 L463.6 443.7 L462.5 444.9 L462.4 447.6 L461.3 448.7 L459.9 447.3 L459.5 447.7 L458.4 448.7 L458.0 451.5 L456.8 452.5 L455.8 450.7 L455.4 451.0 L454.2 451.8 L453.5 454.7 L452.3 455.5 L451.6 453.4 L451.1 453.6 L449.9 454.2 L449.0 457.1 L447.8 457.6 L447.3 455.2 L446.9 455.3 L445.8 455.7 L444.5 458.6 L443.4 458.9 L443.3 456.2 L442.9 456.3 L441.7 456.4 L440.3 459.2 L439.1 459.2 L439.4 456.4 L439.0 456.4 L438.0 456.2 L436.2 458.9 L435.2 458.6 L435.8 455.7 L435.4 455.6 L434.5 455.2 L432.6 457.6 L431.7 457.2 L432.6 454.2 L432.3 454.0 L431.5 453.4 L429.4 455.5 L428.6 454.8 L429.8 451.8 L429.6 451.6 L428.9 450.7 L426.8 452.6 L426.1 451.6 L427.6 448.7 L427.4 448.4 L426.8 447.4 L424.7 448.8 L424.2 447.7 L425.9 445.0 L425.7 444.5 L425.4 443.4 L423.2 444.4 L422.9 443.1 L424.8 440.6 L424.7 440.1 L424.5 438.8 L422.4 439.4 L422.3 437.9 L424.3 435.7 L424.3 435.2 L424.3 433.7 L422.2 433.9 L422.3 432.3 L424.4 430.4 L424.5 429.9 L424.7 428.3 L422.8 428.0 L423.0 426.4 L425.2 424.8 L425.3 424.3 L425.7 422.7 L424.0 422.0 L424.4 420.3 L426.6 419.1 L426.8 418.5 L427.3 416.9 L425.8 415.8 L426.4 414.2 L428.6 413.4 L428.8 412.8 L429.5 411.2 L428.3 409.7 L429.0 408.1 L431.1 407.7 L431.4 407.2 L432.2 405.7 L431.3 403.8 L432.2 402.2 L434.1 402.3 L434.4 401.8 L435.4 400.4 L434.7 398.2 L435.7 396.7 L437.5 397.3 L437.9 396.8 L438.9 395.5 L438.6 393.0 L439.7 391.7 L441.3 392.7 L441.6 392.3 L442.7 391.1 L442.8 388.4 L443.9 387.3 L445.3 388.7 L445.7 388.3 L446.8 387.3 L447.2 384.5 L448.4 383.5 L449.4 385.3 L449.8 385.0 L451.0 384.2 L451.7 381.3 L452.9 380.5 L453.6 382.6 L454.1 382.4 L455.3 381.8 L456.2 378.9 L457.4 378.4 L457.9 380.8 L458.3 380.7 L459.4 380.3 L460.7 377.4 L461.8 377.1 L461.9 379.8 L462.3 379.7 L463.5 379.6 L464.9 376.8 L466.1 376.8 L465.8 379.6 L466.2 379.6 L467.2 379.8 L469.0 377.1 L470.0 377.4 L469.4 380.3 L469.8 380.4 L470.7 380.8 L472.6 378.4 L473.5 378.8 L472.6 381.8 L472.9 382.0 L473.7 382.6 L475.8 380.5 L476.6 381.2 L475.4 384.2 L475.6 384.4 L476.3 385.3 L478.4 383.4 L479.1 384.4 L477.6 387.3 L477.8 387.6 L478.4 388.6 L480.5 387.2 L481.0 388.3 L479.3 391.0 L479.5 391.5 L479.8 392.6 L482.0 391.6 L482.3 392.9 L480.4 395.4 L480.5 395.9 L480.7 397.2 L482.8 396.6 L482.9 398.1 L480.9 400.3 L480.9 400.8 L480.9 402.3 L483.0 402.1 L482.9 403.7 L480.8 405.6 L480.7 406.1 L480.5 407.7 L482.4 408.0 L482.2 409.6 L480.0 411.2 L479.9 411.7 L479.5 413.3 L481.2 414.0 L480.8 415.7 L478.6 416.9 L478.4 417.5 L477.9 419.1 L479.4 420.2 L478.8 421.8 L476.6 422.6 L476.4 423.2 L475.7 424.8 L476.9 426.3 L476.2 427.9 L474.1 428.3Z" fill="#fff" stroke="#000" stroke-width="1.0"/>
<ellipse cx="453.6" cy="418.6" rx="23.0" ry="38.6" transform="rotate(27 453.6 418.6)" fill="none" stroke="#000" stroke-width="0.9" />
<ellipse cx="456.8" cy="418.2" rx="5.4" ry="9.2" transform="rotate(27 456.8 418.2)" fill="none" stroke="#000" stroke-width="1.0" />
<ellipse cx="456.6" cy="418.4" rx="4.2" ry="7.6" transform="rotate(27 456.6 418.4)" fill="none" stroke="#000" stroke-width="0.8" />
<ellipse cx="456.8" cy="418.8" rx="2.6" ry="4.6" transform="rotate(27 456.8 418.8)" fill="none" stroke="#000" stroke-width="1.0" />
<path d="M486.5 452.6 L585.7 392.1 Q597 386.2 609.9 396.9 Q620 409 619.5 423.6 Q618.4 437 606 448" fill="none" stroke="#000" stroke-width="1.3" />
<path d="M486.5 452.6 Q468 468 464.7 492 Q465 511 479.2 515.5 Q487 518 495.5 515.2 L559 484.2" fill="none" stroke="#000" stroke-width="1.3" />
<path d="M491.3 457.4 L589.3 398.1 Q598 393.6 606.4 400.6 Q613.6 410 613.5 423.6 Q613 431 610 438" fill="none" stroke="#000" stroke-width="0.9" />
<path d="M491.3 457.4 Q474 472 471.9 493.7 Q472.6 506.4 486.5 509.4 Q492 510.4 498 508 L561.5 473.4" fill="none" stroke="#000" stroke-width="0.9" />
<path d="M494.6 461.8 L592 402.8" fill="none" stroke="#000" stroke-width="0.9" />
<path d="M494.6 461.8 Q480 474 478 492.5 Q479 503.4 489.4 505.2" fill="none" stroke="#000" stroke-width="0.9" />
<path d="M489.4 505.2 L571.0 462.4" fill="none" stroke="#222" stroke-width="0.8" stroke-dasharray="12 2 2 2"/>
<path d="M542.6 418.2 l0.8 1.2" fill="none" stroke="#000" stroke-width="1.4" />
<rect x="610.8" y="416.5" width="3.6" height="2.0" fill="#fff" stroke="#000" stroke-width="0.9" transform="rotate(-25 612.6 417.5)"/>
<rect x="610.0" y="419.7" width="3.6" height="2.0" fill="#fff" stroke="#000" stroke-width="0.9" transform="rotate(-25 611.8 420.7)"/>
<rect x="609.1" y="422.8" width="3.6" height="2.0" fill="#fff" stroke="#000" stroke-width="0.9" transform="rotate(-25 610.9 423.8)"/>
<rect x="608.0" y="426.0" width="3.6" height="2.0" fill="#fff" stroke="#000" stroke-width="0.9" transform="rotate(-25 609.8 427.0)"/>
<rect x="606.7" y="429.2" width="3.6" height="2.0" fill="#fff" stroke="#000" stroke-width="0.9" transform="rotate(-25 608.5 430.2)"/>
<rect x="605.1" y="432.3" width="3.6" height="2.0" fill="#fff" stroke="#000" stroke-width="0.9" transform="rotate(-25 606.9 433.3)"/>
<rect x="603.2" y="435.5" width="3.6" height="2.0" fill="#fff" stroke="#000" stroke-width="0.9" transform="rotate(-25 605.0 436.5)"/>
<rect x="601.2" y="438.7" width="3.6" height="2.0" fill="#fff" stroke="#000" stroke-width="0.9" transform="rotate(-25 603.0 439.7)"/>
<rect x="598.9" y="441.8" width="3.6" height="2.0" fill="#fff" stroke="#000" stroke-width="0.9" transform="rotate(-25 600.7 442.8)"/>
<rect x="596.6" y="445.0" width="3.6" height="2.0" fill="#fff" stroke="#000" stroke-width="0.9" transform="rotate(-25 598.4 446.0)"/>
<path d="M586.4 522.3 L583.6 522.9 L580.9 523.2 L578.3 523.1 L575.9 522.7 L573.6 521.8 L571.5 520.6 L569.6 519.0 L567.9 517.1 L566.4 514.9 L565.2 512.4 L564.3 509.6 L563.6 506.6 L563.2 503.4 L563.1 499.9 L563.3 496.4 L563.8 492.7 L564.5 489.0 L565.5 485.2 L566.8 481.4 L568.3 477.7 L570.1 474.0 L572.1 470.5 L574.2 467.1 L576.6 463.9 L579.1 460.9 L581.7 458.1 L584.4 455.7 L587.2 453.5 L590.1 451.7 L592.9 450.2 L595.7 449.0 L598.5 448.2 L601.3 447.8 L603.9 447.8 L606.4 448.2 L608.7 448.9 L610.9 450.0 L612.9 451.4 L614.7 453.2 L616.2 455.4" fill="none" stroke="#000" stroke-width="1.4" />
<path d="M579.6 521.4 L577.7 520.9 L575.9 520.2 L574.3 519.2 L572.7 518.0 L571.3 516.5 L570.1 514.9 L569.1 513.0 L568.2 510.9 L567.5 508.6 L566.9 506.2 L566.6 503.7 L566.5 501.0 L566.5 498.2 L566.7 495.3 L567.2 492.4 L567.8 489.4 L568.6 486.4 L569.6 483.4 L570.7 480.4 L572.1 477.4 L573.5 474.6 L575.1 471.8 L576.9 469.1 L578.7 466.5 L580.7 464.1 L582.7 461.8 L584.8 459.7 L587.0 457.8 L589.3 456.2 L591.5 454.7 L593.8 453.4 L596.0 452.4 L598.3 451.7 L600.5 451.2 L602.6 450.9 L604.7 450.9 L606.7 451.2 L608.6 451.7 L610.4 452.5 L612.1 453.5" fill="none" stroke="#000" stroke-width="0.8" />
<path d="M586.6 480.7 L585.0 479.7 L583.2 479.1 L581.2 478.8 L579.1 478.7 L576.8 479.0 L574.5 479.6 L572.0 480.8 L569.4 482.3 L566.8 484.4 L564.4 486.9 L565.0 489.3 L567.5 487.8 L569.8 486.3 L572.0 485.0 L574.1 484.0 L576.2 483.1 L578.3 482.5 L580.2 482.1 L582.1 482.0 L583.9 482.2 L585.6 482.7Z" fill="#fff" stroke="#000" stroke-width="0.8"/>
<path d="M594.7 483.9 L593.0 482.9 L591.1 482.2 L589.1 481.9 L586.9 481.8 L584.5 482.2 L582.0 482.9 L579.3 484.2 L576.6 485.9 L574.0 488.3 L571.4 491.2 L572.4 493.9 L574.9 492.2 L577.3 490.7 L579.5 489.2 L581.7 488.0 L583.8 487.0 L585.9 486.3 L587.9 485.9 L589.9 485.7 L591.7 485.9 L593.4 486.3Z" fill="#fff" stroke="#000" stroke-width="1.2"/>
<path d="M590.3 476.7 L589.6 474.5 L588.7 472.6 L587.6 470.8 L586.2 469.2 L584.6 467.9 L582.8 466.8 L580.7 466.2 L578.5 466.0 L575.9 466.4 L573.3 467.4 L572.7 470.5 L575.0 470.6 L577.0 470.7 L579.0 470.9 L580.8 471.3 L582.6 471.8 L584.1 472.6 L585.6 473.7 L586.8 474.9 L587.9 476.4 L588.8 478.1Z" fill="#fff" stroke="#000" stroke-width="0.8"/>
<path d="M598.1 480.4 L597.4 478.1 L596.5 476.0 L595.3 474.2 L593.9 472.5 L592.2 471.2 L590.3 470.1 L588.0 469.6 L585.6 469.5 L582.9 470.1 L580.0 471.4 L579.5 475.1 L581.9 475.0 L584.0 475.1 L586.1 475.2 L588.0 475.5 L589.8 475.9 L591.4 476.6 L592.9 477.6 L594.3 478.9 L595.4 480.4 L596.3 482.1Z" fill="#fff" stroke="#000" stroke-width="1.2"/>
<path d="M584.2 485.9 L582.1 486.5 L579.9 487.4 L577.6 488.6 L575.3 490.1 L573.0 491.9 L570.7 494.0 L568.4 496.6 L566.3 499.4 L564.4 502.6 L562.7 506.1 L564.4 507.1 L566.4 504.3 L568.3 501.8 L570.2 499.3 L572.1 497.1 L574.0 495.0 L575.9 493.1 L577.9 491.5 L579.9 490.0 L581.9 488.9 L583.9 488.0Z" fill="#fff" stroke="#000" stroke-width="0.8"/>
<path d="M592.4 488.7 L590.2 489.2 L587.9 490.1 L585.5 491.4 L583.1 493.0 L580.7 494.9 L578.2 497.2 L575.9 499.9 L573.7 503.0 L571.8 506.5 L570.2 510.3 L572.4 511.3 L574.4 508.4 L576.3 505.7 L578.2 503.1 L580.1 500.8 L582.0 498.5 L583.9 496.6 L585.9 494.8 L588.0 493.3 L590.0 492.1 L592.0 491.1Z" fill="#fff" stroke="#000" stroke-width="1.2"/>
<path d="M594.3 475.1 L594.8 472.3 L595.0 469.5 L595.0 466.7 L594.7 464.1 L594.2 461.5 L593.5 459.0 L592.4 456.9 L591.0 455.0 L589.2 453.6 L587.0 452.7 L585.4 455.7 L586.9 457.4 L588.2 459.0 L589.4 460.6 L590.4 462.4 L591.3 464.2 L592.0 466.2 L592.5 468.4 L592.8 470.7 L592.9 473.1 L592.8 475.6Z" fill="#fff" stroke="#000" stroke-width="0.8"/>
<path d="M601.8 479.1 L602.3 476.1 L602.5 473.2 L602.5 470.3 L602.3 467.5 L601.7 464.8 L600.9 462.3 L599.7 460.1 L598.1 458.2 L596.1 456.9 L593.7 456.3 L591.9 459.9 L593.4 461.5 L594.8 463.1 L596.1 464.7 L597.2 466.4 L598.2 468.2 L599.0 470.2 L599.6 472.4 L599.9 474.7 L600.0 477.1 L599.9 479.6Z" fill="#fff" stroke="#000" stroke-width="1.2"/>
<path d="M583.8 491.0 L581.7 493.0 L579.7 495.1 L577.7 497.6 L575.9 500.2 L574.1 503.0 L572.5 506.1 L571.1 509.4 L569.9 512.8 L569.1 516.3 L568.8 519.7 L571.1 519.1 L572.1 515.9 L573.1 512.8 L574.1 509.9 L575.2 507.1 L576.4 504.3 L577.8 501.7 L579.2 499.2 L580.8 496.8 L582.5 494.6 L584.3 492.6Z" fill="#fff" stroke="#000" stroke-width="0.8"/>
<path d="M591.9 493.4 L589.7 495.4 L587.6 497.6 L585.6 500.2 L583.6 502.9 L581.8 505.9 L580.1 509.2 L578.7 512.7 L577.5 516.3 L576.9 519.9 L576.7 523.5 L579.5 522.6 L580.5 519.3 L581.5 516.1 L582.4 513.1 L583.5 510.2 L584.6 507.4 L585.9 504.7 L587.4 502.1 L589.0 499.7 L590.7 497.4 L592.5 495.3Z" fill="#fff" stroke="#000" stroke-width="1.2"/>
<path d="M597.6 476.3 L599.0 473.6 L600.3 470.7 L601.5 467.7 L602.4 464.6 L603.1 461.5 L603.6 458.3 L603.8 455.2 L603.7 452.1 L603.1 449.3 L602.0 446.8 L599.8 448.9 L600.0 451.7 L600.2 454.4 L600.3 457.1 L600.2 459.7 L600.1 462.3 L599.7 465.0 L599.1 467.7 L598.4 470.4 L597.5 473.1 L596.4 475.7Z" fill="#fff" stroke="#000" stroke-width="0.8"/>
<path d="M605.4 480.8 L607.3 477.6 L608.9 474.4 L610.4 470.9 L611.7 467.3 L612.7 463.5 L613.5 459.7 L613.6 455.9 L613.4 452.3 L612.3 449.2 L610.5 446.8 L605.2 452.0 L605.0 455.3 L605.0 458.1 L605.2 460.7 L605.3 463.2 L605.3 465.7 L605.2 468.3 L604.9 470.9 L604.3 473.7 L603.5 476.4 L602.6 479.2Z" fill="#fff" stroke="#000" stroke-width="1.2"/>
<path d="M585.4 494.7 L584.0 497.4 L582.7 500.3 L581.5 503.3 L580.6 506.4 L579.9 509.5 L579.4 512.7 L579.2 515.8 L579.3 518.9 L579.9 521.7 L581.0 524.2 L583.2 522.1 L583.0 519.3 L582.8 516.6 L582.7 513.9 L582.8 511.3 L582.9 508.7 L583.3 506.0 L583.9 503.3 L584.6 500.6 L585.5 497.9 L586.6 495.3Z" fill="#fff" stroke="#000" stroke-width="0.8"/>
<path d="M592.6 496.4 L590.7 499.6 L589.1 502.8 L587.6 506.3 L586.3 509.9 L585.3 513.7 L584.5 517.5 L584.4 521.3 L584.6 524.9 L585.7 528.0 L587.5 530.4 L592.8 525.2 L593.0 521.9 L593.0 519.1 L592.8 516.5 L592.7 514.0 L592.7 511.5 L592.8 508.9 L593.1 506.3 L593.7 503.5 L594.5 500.8 L595.4 498.0Z" fill="#fff" stroke="#000" stroke-width="1.2"/>
<path d="M606.4 484.7 L608.9 482.7 L611.3 480.4 L613.7 477.7 L616.0 474.7 L618.2 471.4 L620.3 467.7 L621.9 463.8 L623.2 459.7 L623.8 455.6 L623.6 451.7 L618.0 453.5 L616.6 456.9 L615.4 460.0 L614.5 462.9 L613.5 465.6 L612.5 468.4 L611.4 471.1 L610.1 473.7 L608.6 476.3 L606.9 478.7 L605.2 481.0Z" fill="#fff" stroke="#000" stroke-width="1.2"/>
<path d="M595.3 498.3 L594.6 501.7 L594.1 505.0 L593.9 508.4 L594.0 511.6 L594.5 514.8 L595.2 517.9 L596.6 520.4 L598.3 522.6 L600.8 523.8 L603.7 524.1 L607.3 516.9 L606.1 514.6 L605.0 512.8 L603.7 511.3 L602.7 509.6 L601.5 508.1 L600.6 506.3 L599.9 504.3 L599.4 502.2 L599.1 499.8 L599.0 497.3Z" fill="#fff" stroke="#000" stroke-width="1.2"/>
<path d="M605.4 489.8 L607.8 489.4 L610.4 488.6 L613.0 487.4 L615.8 485.8 L618.6 483.9 L621.4 481.4 L624.1 478.4 L626.6 474.9 L628.6 470.9 L630.1 466.5 L625.8 464.4 L623.4 467.0 L621.4 469.5 L619.6 472.0 L617.8 474.2 L616.1 476.5 L614.2 478.6 L612.3 480.5 L610.3 482.2 L608.2 483.7 L606.2 484.8Z" fill="#fff" stroke="#000" stroke-width="1.2"/>
<path d="M599.0 497.6 L599.6 500.3 L600.4 502.8 L601.6 505.1 L603.1 507.2 L604.8 508.9 L606.9 510.4 L609.4 511.0 L612.2 511.2 L615.3 510.2 L618.6 508.3 L619.6 501.0 L617.4 500.4 L615.4 500.0 L613.4 499.9 L611.6 499.6 L609.7 499.5 L608.0 499.0 L606.4 498.2 L605.0 497.1 L603.7 495.8 L602.6 494.3Z" fill="#fff" stroke="#000" stroke-width="1.2"/>
<path d="M602.7 494.5 L604.4 495.8 L606.4 496.8 L608.6 497.5 L611.0 497.7 L613.7 497.6 L616.5 497.0 L619.5 495.6 L622.6 493.7 L625.6 490.9 L628.3 487.2 L626.4 481.8 L623.7 483.0 L621.4 484.2 L619.2 485.5 L617.1 486.7 L615.1 487.9 L613.0 488.8 L610.9 489.5 L609.0 489.8 L607.0 489.9 L605.2 489.7Z" fill="#fff" stroke="#000" stroke-width="1.2"/>
<ellipse cx="591.8" cy="483.4" rx="7.4" ry="10.6" transform="rotate(27 591.8 483.4)" fill="#fff" stroke="#000" stroke-width="1.1" />
<ellipse cx="592.6" cy="484.0" rx="5.2" ry="8.0" transform="rotate(27 592.6 484.0)" fill="#fff" stroke="#000" stroke-width="1.0" />
<ellipse cx="593.2" cy="484.4" rx="2.6" ry="4.4" transform="rotate(27 593.2 484.4)" fill="#777" stroke="#000" stroke-width="1.6" />
<path d="M640.7 517.3 L639.9 518.6 L640.4 520.9 L639.0 522.2 L637.7 520.8 L637.3 521.1 L636.1 521.6 L635.0 524.2 L633.6 524.2 L633.8 521.6 L633.4 521.4 L632.6 520.8 L630.6 522.2 L629.9 520.9 L631.5 518.6 L631.4 518.1 L631.4 516.8 L629.6 516.2 L630.1 514.3 L632.2 513.6 L632.5 513.1 L633.3 511.8 L632.8 509.5 L634.2 508.2 L635.5 509.6 L635.9 509.3 L637.1 508.8 L638.2 506.2 L639.6 506.2 L639.4 508.8 L639.8 509.0 L640.6 509.6 L642.6 508.2 L643.3 509.5 L641.7 511.8 L641.8 512.3 L641.8 513.6 L643.6 514.2 L643.1 516.1 L641.0 516.8Z" fill="#fff" stroke="#000" stroke-width="1.0"/>
<ellipse cx="635.6" cy="515.0" rx="4.6" ry="7.8" transform="rotate(27 635.6 515.0)" fill="#fff" stroke="#000" stroke-width="1.2" />
<ellipse cx="635.2" cy="514.8" rx="3.0" ry="4.6" transform="rotate(27 635.2 514.8)" fill="#999" stroke="#000" stroke-width="1.8" />
<ellipse cx="634.8" cy="515.0" rx="1.2" ry="2.0" transform="rotate(27 634.8 515.0)" fill="#fff" stroke="#000" stroke-width="0.7" />
<ellipse cx="658.0" cy="526.0" rx="6.0" ry="9.6" transform="rotate(27 658.0 526.0)" fill="#fff" stroke="#000" stroke-width="1.8" />
<ellipse cx="659.0" cy="526.4" rx="5.4" ry="8.8" transform="rotate(27 659.0 526.4)" fill="#fff" stroke="#000" stroke-width="0.9" />
<ellipse cx="659.2" cy="526.4" rx="3.0" ry="5.2" transform="rotate(27 659.2 526.4)" fill="#fff" stroke="#000" stroke-width="1.2" />
<ellipse cx="659.6" cy="526.6" rx="2.2" ry="4.2" transform="rotate(27 659.6 526.6)" fill="none" stroke="#000" stroke-width="0.6" />
<ellipse cx="671.0" cy="532.6" rx="5.6" ry="10.4" transform="rotate(27 671.0 532.6)" fill="#fff" stroke="#000" stroke-width="1.3" />
<ellipse cx="672.2" cy="533.2" rx="5.2" ry="9.8" transform="rotate(27 672.2 533.2)" fill="#fff" stroke="#000" stroke-width="0.9" />
<path d="M672 524.6 L679 527.6 Q683 531.6 681.6 537 L677 541.6 L670 541.6" fill="#fff" stroke="#000" stroke-width="1.1" />
<ellipse cx="676.6" cy="534.6" rx="4.6" ry="6.6" transform="rotate(27 676.6 534.6)" fill="#fff" stroke="#000" stroke-width="1.0" />
<ellipse cx="677.0" cy="535.6" rx="2.6" ry="3.6" transform="rotate(27 677.0 535.6)" fill="#666" stroke="#000" stroke-width="1.6" />
<path d="M674 525.6 l1 4 M680.6 529.4 l-2.4 2.6 M679.6 539.4 l-2.6 -1.6" fill="none" stroke="#000" stroke-width="0.8" />
</svg>
</body></html>
